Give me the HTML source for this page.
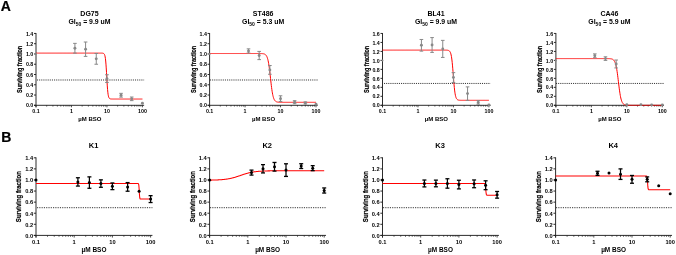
<!DOCTYPE html><html><head><meta charset="utf-8"><style>html,body{margin:0;padding:0;background:#fff;width:676px;height:255px;overflow:hidden}svg{display:block;will-change:transform} text{font-family:"Liberation Sans", sans-serif;font-weight:bold;fill:#000}</style></head><body>
<svg width="676" height="255" viewBox="0 0 676 255">
<rect width="676" height="255" fill="#fff"/>
<text x="0.8" y="10.6" font-size="14" stroke="#000" stroke-width="0.2">A</text>
<text x="1.2" y="141.6" font-size="14" stroke="#000" stroke-width="0.2">B</text>
<g><text x="89.5" y="15.8" font-size="7.0" text-anchor="middle">DG75</text><text x="89.5" y="23.5" font-size="6.9" text-anchor="middle">GI<tspan font-size="5.0" dy="2.1">50</tspan><tspan dy="-2.1"> = 9.9 uM</tspan></text><line x1="37" y1="79.99" x2="144.11" y2="79.99" stroke="#333" stroke-width="1" stroke-dasharray="1.07 1.06"/><line x1="36" y1="33" x2="36" y2="107.3" stroke="#222" stroke-width="0.95"/><line x1="34" y1="105.3" x2="144.11" y2="105.3" stroke="#222" stroke-width="0.95"/><line x1="34" y1="105.3" x2="36" y2="105.3" stroke="#222" stroke-width="0.95"/><text x="33.3" y="107.45" font-size="5.3" text-anchor="end">0.0</text><line x1="34" y1="95.04" x2="36" y2="95.04" stroke="#222" stroke-width="0.95"/><text x="33.3" y="97.19" font-size="5.3" text-anchor="end">0.2</text><line x1="34" y1="84.77" x2="36" y2="84.77" stroke="#222" stroke-width="0.95"/><text x="33.3" y="86.92" font-size="5.3" text-anchor="end">0.4</text><line x1="34" y1="74.51" x2="36" y2="74.51" stroke="#222" stroke-width="0.95"/><text x="33.3" y="76.66" font-size="5.3" text-anchor="end">0.6</text><line x1="34" y1="64.24" x2="36" y2="64.24" stroke="#222" stroke-width="0.95"/><text x="33.3" y="66.39" font-size="5.3" text-anchor="end">0.8</text><line x1="34" y1="53.98" x2="36" y2="53.98" stroke="#222" stroke-width="0.95"/><text x="33.3" y="56.13" font-size="5.3" text-anchor="end">1.0</text><line x1="34" y1="43.71" x2="36" y2="43.71" stroke="#222" stroke-width="0.95"/><text x="33.3" y="45.86" font-size="5.3" text-anchor="end">1.2</text><line x1="34" y1="33.45" x2="36" y2="33.45" stroke="#222" stroke-width="0.95"/><text x="33.3" y="35.6" font-size="5.3" text-anchor="end">1.4</text><line x1="36" y1="105.3" x2="36" y2="107.3" stroke="#222" stroke-width="0.8"/><line x1="46.68" y1="105.3" x2="46.68" y2="106.5" stroke="#222" stroke-width="0.8"/><line x1="52.92" y1="105.3" x2="52.92" y2="106.5" stroke="#222" stroke-width="0.8"/><line x1="57.36" y1="105.3" x2="57.36" y2="106.5" stroke="#222" stroke-width="0.8"/><line x1="60.79" y1="105.3" x2="60.79" y2="106.5" stroke="#222" stroke-width="0.8"/><line x1="63.6" y1="105.3" x2="63.6" y2="106.5" stroke="#222" stroke-width="0.8"/><line x1="65.98" y1="105.3" x2="65.98" y2="106.5" stroke="#222" stroke-width="0.8"/><line x1="68.03" y1="105.3" x2="68.03" y2="106.5" stroke="#222" stroke-width="0.8"/><line x1="69.85" y1="105.3" x2="69.85" y2="106.5" stroke="#222" stroke-width="0.8"/><line x1="71.47" y1="105.3" x2="71.47" y2="107.3" stroke="#222" stroke-width="0.8"/><line x1="82.15" y1="105.3" x2="82.15" y2="106.5" stroke="#222" stroke-width="0.8"/><line x1="88.39" y1="105.3" x2="88.39" y2="106.5" stroke="#222" stroke-width="0.8"/><line x1="92.83" y1="105.3" x2="92.83" y2="106.5" stroke="#222" stroke-width="0.8"/><line x1="96.26" y1="105.3" x2="96.26" y2="106.5" stroke="#222" stroke-width="0.8"/><line x1="99.07" y1="105.3" x2="99.07" y2="106.5" stroke="#222" stroke-width="0.8"/><line x1="101.45" y1="105.3" x2="101.45" y2="106.5" stroke="#222" stroke-width="0.8"/><line x1="103.5" y1="105.3" x2="103.5" y2="106.5" stroke="#222" stroke-width="0.8"/><line x1="105.32" y1="105.3" x2="105.32" y2="106.5" stroke="#222" stroke-width="0.8"/><line x1="106.94" y1="105.3" x2="106.94" y2="107.3" stroke="#222" stroke-width="0.8"/><line x1="117.62" y1="105.3" x2="117.62" y2="106.5" stroke="#222" stroke-width="0.8"/><line x1="123.86" y1="105.3" x2="123.86" y2="106.5" stroke="#222" stroke-width="0.8"/><line x1="128.3" y1="105.3" x2="128.3" y2="106.5" stroke="#222" stroke-width="0.8"/><line x1="131.73" y1="105.3" x2="131.73" y2="106.5" stroke="#222" stroke-width="0.8"/><line x1="134.54" y1="105.3" x2="134.54" y2="106.5" stroke="#222" stroke-width="0.8"/><line x1="136.92" y1="105.3" x2="136.92" y2="106.5" stroke="#222" stroke-width="0.8"/><line x1="138.97" y1="105.3" x2="138.97" y2="106.5" stroke="#222" stroke-width="0.8"/><line x1="140.79" y1="105.3" x2="140.79" y2="106.5" stroke="#222" stroke-width="0.8"/><line x1="142.41" y1="105.3" x2="142.41" y2="107.3" stroke="#222" stroke-width="0.8"/><text x="36" y="113.15" font-size="5.3" text-anchor="middle">0.1</text><text x="71.47" y="113.15" font-size="5.3" text-anchor="middle">1</text><text x="106.94" y="113.15" font-size="5.3" text-anchor="middle">10</text><text x="142.41" y="113.15" font-size="5.3" text-anchor="middle">100</text><text x="89.91" y="121.15" font-size="6" text-anchor="middle">µM BSO</text><text transform="translate(22.3,69.38) rotate(-90) scale(0.845,1)" font-size="6.6" stroke="#000" stroke-width="0.2" text-anchor="middle">Surviving fraction</text><polyline points="36.00,53.11 36.27,53.11 36.53,53.11 36.80,53.11 37.06,53.11 37.33,53.11 37.60,53.11 37.86,53.11 38.13,53.11 38.39,53.11 38.66,53.11 38.93,53.11 39.19,53.11 39.46,53.11 39.72,53.11 39.99,53.11 40.26,53.11 40.52,53.11 40.79,53.11 41.05,53.11 41.32,53.11 41.59,53.11 41.85,53.11 42.12,53.11 42.38,53.11 42.65,53.11 42.92,53.11 43.18,53.11 43.45,53.11 43.71,53.11 43.98,53.11 44.25,53.11 44.51,53.11 44.78,53.11 45.04,53.11 45.31,53.11 45.58,53.11 45.84,53.11 46.11,53.11 46.37,53.11 46.64,53.11 46.91,53.11 47.17,53.11 47.44,53.11 47.71,53.11 47.97,53.11 48.24,53.11 48.50,53.11 48.77,53.11 49.04,53.11 49.30,53.11 49.57,53.11 49.83,53.11 50.10,53.11 50.37,53.11 50.63,53.11 50.90,53.11 51.16,53.11 51.43,53.11 51.70,53.11 51.96,53.11 52.23,53.11 52.49,53.11 52.76,53.11 53.03,53.11 53.29,53.11 53.56,53.11 53.82,53.11 54.09,53.11 54.36,53.11 54.62,53.11 54.89,53.11 55.15,53.11 55.42,53.11 55.69,53.11 55.95,53.11 56.22,53.11 56.48,53.11 56.75,53.11 57.02,53.11 57.28,53.11 57.55,53.11 57.81,53.11 58.08,53.11 58.35,53.11 58.61,53.11 58.88,53.11 59.14,53.11 59.41,53.11 59.68,53.11 59.94,53.11 60.21,53.11 60.47,53.11 60.74,53.11 61.01,53.11 61.27,53.11 61.54,53.11 61.80,53.11 62.07,53.11 62.34,53.11 62.60,53.11 62.87,53.11 63.13,53.11 63.40,53.11 63.67,53.11 63.93,53.11 64.20,53.11 64.46,53.11 64.73,53.11 65.00,53.11 65.26,53.11 65.53,53.11 65.79,53.11 66.06,53.11 66.33,53.11 66.59,53.11 66.86,53.11 67.12,53.11 67.39,53.11 67.66,53.11 67.92,53.11 68.19,53.11 68.46,53.11 68.72,53.11 68.99,53.11 69.25,53.11 69.52,53.11 69.79,53.11 70.05,53.11 70.32,53.11 70.58,53.11 70.85,53.11 71.12,53.11 71.38,53.11 71.65,53.11 71.91,53.11 72.18,53.11 72.45,53.11 72.71,53.11 72.98,53.11 73.24,53.11 73.51,53.11 73.78,53.11 74.04,53.11 74.31,53.11 74.57,53.11 74.84,53.11 75.11,53.11 75.37,53.11 75.64,53.11 75.90,53.11 76.17,53.11 76.44,53.11 76.70,53.11 76.97,53.11 77.23,53.11 77.50,53.11 77.77,53.11 78.03,53.11 78.30,53.11 78.56,53.11 78.83,53.11 79.10,53.11 79.36,53.11 79.63,53.11 79.89,53.11 80.16,53.11 80.43,53.11 80.69,53.11 80.96,53.11 81.22,53.11 81.49,53.11 81.76,53.11 82.02,53.11 82.29,53.11 82.55,53.11 82.82,53.11 83.09,53.11 83.35,53.11 83.62,53.11 83.88,53.11 84.15,53.11 84.42,53.11 84.68,53.11 84.95,53.11 85.21,53.11 85.48,53.11 85.75,53.11 86.01,53.11 86.28,53.11 86.54,53.11 86.81,53.11 87.08,53.11 87.34,53.11 87.61,53.11 87.87,53.11 88.14,53.11 88.41,53.11 88.67,53.11 88.94,53.11 89.20,53.11 89.47,53.11 89.74,53.11 90.00,53.11 90.27,53.11 90.54,53.11 90.80,53.11 91.07,53.11 91.33,53.11 91.60,53.11 91.87,53.11 92.13,53.11 92.40,53.11 92.66,53.11 92.93,53.11 93.20,53.11 93.46,53.11 93.73,53.11 93.99,53.11 94.26,53.11 94.53,53.11 94.79,53.11 95.06,53.11 95.32,53.11 95.59,53.11 95.86,53.11 96.12,53.11 96.39,53.11 96.65,53.11 96.92,53.11 97.19,53.11 97.45,53.11 97.72,53.11 97.98,53.11 98.25,53.11 98.52,53.11 98.78,53.11 99.05,53.11 99.31,53.11 99.58,53.11 99.85,53.11 100.11,53.11 100.38,53.11 100.64,53.11 100.91,53.11 101.18,53.11 101.44,53.12 101.71,53.13 101.97,53.13 102.24,53.15 102.51,53.17 102.77,53.21 103.04,53.26 103.30,53.33 103.57,53.45 103.84,53.62 104.10,53.89 104.37,54.28 104.63,54.86 104.90,55.70 105.17,56.93 105.43,58.65 105.70,61.01 105.96,64.09 106.23,67.92 106.50,72.34 106.76,77.06 107.03,81.71 107.29,85.91 107.56,89.43 107.83,92.21 108.09,94.28 108.36,95.78 108.62,96.83 108.89,97.56 109.16,98.05 109.42,98.38 109.69,98.60 109.95,98.75 110.22,98.85 110.49,98.91 110.75,98.95 111.02,98.98 111.29,99.00 111.55,99.01 111.82,99.02 112.08,99.03 112.35,99.03 112.62,99.03 112.88,99.04 113.15,99.04 113.41,99.04 113.68,99.04 113.95,99.04 114.21,99.04 114.48,99.04 114.74,99.04 115.01,99.04 115.28,99.04 115.54,99.04 115.81,99.04 116.07,99.04 116.34,99.04 116.61,99.04 116.87,99.04 117.14,99.04 117.40,99.04 117.67,99.04 117.94,99.04 118.20,99.04 118.47,99.04 118.73,99.04 119.00,99.04 119.27,99.04 119.53,99.04 119.80,99.04 120.06,99.04 120.33,99.04 120.60,99.04 120.86,99.04 121.13,99.04 121.39,99.04 121.66,99.04 121.93,99.04 122.19,99.04 122.46,99.04 122.72,99.04 122.99,99.04 123.26,99.04 123.52,99.04 123.79,99.04 124.05,99.04 124.32,99.04 124.59,99.04 124.85,99.04 125.12,99.04 125.38,99.04 125.65,99.04 125.92,99.04 126.18,99.04 126.45,99.04 126.71,99.04 126.98,99.04 127.25,99.04 127.51,99.04 127.78,99.04 128.04,99.04 128.31,99.04 128.58,99.04 128.84,99.04 129.11,99.04 129.37,99.04 129.64,99.04 129.91,99.04 130.17,99.04 130.44,99.04 130.70,99.04 130.97,99.04 131.24,99.04 131.50,99.04 131.77,99.04 132.04,99.04 132.30,99.04 132.57,99.04 132.83,99.04 133.10,99.04 133.37,99.04 133.63,99.04 133.90,99.04 134.16,99.04 134.43,99.04 134.70,99.04 134.96,99.04 135.23,99.04 135.49,99.04 135.76,99.04 136.03,99.04 136.29,99.04 136.56,99.04 136.82,99.04 137.09,99.04 137.36,99.04 137.62,99.04 137.89,99.04 138.15,99.04 138.42,99.04 138.69,99.04 138.95,99.04 139.22,99.04 139.48,99.04 139.75,99.04 140.02,99.04 140.28,99.04 140.55,99.04 140.81,99.04 141.08,99.04 141.35,99.04 141.61,99.04 141.88,99.04 142.14,99.04 142.41,99.04" fill="none" stroke="#f00" stroke-width="1.0"/><circle cx="36" cy="53.98" r="1.0" fill="#888"/><line x1="74.91" y1="43.36" x2="74.91" y2="53.11" stroke="#888" stroke-width="1.0"/><line x1="73.11" y1="43.36" x2="76.71" y2="43.36" stroke="#888" stroke-width="1.0"/><line x1="73.11" y1="53.11" x2="76.71" y2="53.11" stroke="#888" stroke-width="1.0"/><circle cx="74.91" cy="48.23" r="1.45" fill="#888"/><line x1="85.58" y1="42.02" x2="85.58" y2="56.39" stroke="#888" stroke-width="1.0"/><line x1="83.78" y1="42.02" x2="87.38" y2="42.02" stroke="#888" stroke-width="1.0"/><line x1="83.78" y1="56.39" x2="87.38" y2="56.39" stroke="#888" stroke-width="1.0"/><circle cx="85.58" cy="49.21" r="1.45" fill="#888"/><line x1="96.26" y1="53.47" x2="96.26" y2="64.24" stroke="#888" stroke-width="1.0"/><line x1="94.46" y1="53.47" x2="98.06" y2="53.47" stroke="#888" stroke-width="1.0"/><line x1="94.46" y1="64.24" x2="98.06" y2="64.24" stroke="#888" stroke-width="1.0"/><circle cx="96.26" cy="58.85" r="1.45" fill="#888"/><line x1="106.94" y1="74.76" x2="106.94" y2="82.46" stroke="#888" stroke-width="1.0"/><line x1="105.14" y1="74.76" x2="108.74" y2="74.76" stroke="#888" stroke-width="1.0"/><line x1="105.14" y1="82.46" x2="108.74" y2="82.46" stroke="#888" stroke-width="1.0"/><circle cx="106.94" cy="78.61" r="1.45" fill="#888"/><line x1="121.05" y1="93.34" x2="121.05" y2="97.14" stroke="#888" stroke-width="1.0"/><line x1="119.25" y1="93.34" x2="122.85" y2="93.34" stroke="#888" stroke-width="1.0"/><line x1="119.25" y1="97.14" x2="122.85" y2="97.14" stroke="#888" stroke-width="1.0"/><circle cx="121.05" cy="95.24" r="1.45" fill="#888"/><line x1="131.73" y1="97.04" x2="131.73" y2="100.63" stroke="#888" stroke-width="1.0"/><line x1="129.93" y1="97.04" x2="133.53" y2="97.04" stroke="#888" stroke-width="1.0"/><line x1="129.93" y1="100.63" x2="133.53" y2="100.63" stroke="#888" stroke-width="1.0"/><circle cx="131.73" cy="98.83" r="1.45" fill="#888"/><circle cx="142.41" cy="103.25" r="1.45" fill="#888"/></g>
<g><text x="263.11" y="15.8" font-size="7.0" text-anchor="middle">ST486</text><text x="263.11" y="23.5" font-size="6.9" text-anchor="middle">GI<tspan font-size="5.0" dy="2.1">50</tspan><tspan dy="-2.1"> = 5.3 uM</tspan></text><line x1="210" y1="79.99" x2="317.71" y2="79.99" stroke="#333" stroke-width="1" stroke-dasharray="1.07 1.06"/><line x1="209.6" y1="33" x2="209.6" y2="107.3" stroke="#222" stroke-width="0.95"/><line x1="207.6" y1="105.3" x2="317.71" y2="105.3" stroke="#222" stroke-width="0.95"/><line x1="207.6" y1="105.3" x2="209.6" y2="105.3" stroke="#222" stroke-width="0.95"/><text x="206.9" y="107.45" font-size="5.3" text-anchor="end">0.0</text><line x1="207.6" y1="95.04" x2="209.6" y2="95.04" stroke="#222" stroke-width="0.95"/><text x="206.9" y="97.19" font-size="5.3" text-anchor="end">0.2</text><line x1="207.6" y1="84.77" x2="209.6" y2="84.77" stroke="#222" stroke-width="0.95"/><text x="206.9" y="86.92" font-size="5.3" text-anchor="end">0.4</text><line x1="207.6" y1="74.51" x2="209.6" y2="74.51" stroke="#222" stroke-width="0.95"/><text x="206.9" y="76.66" font-size="5.3" text-anchor="end">0.6</text><line x1="207.6" y1="64.24" x2="209.6" y2="64.24" stroke="#222" stroke-width="0.95"/><text x="206.9" y="66.39" font-size="5.3" text-anchor="end">0.8</text><line x1="207.6" y1="53.98" x2="209.6" y2="53.98" stroke="#222" stroke-width="0.95"/><text x="206.9" y="56.13" font-size="5.3" text-anchor="end">1.0</text><line x1="207.6" y1="43.71" x2="209.6" y2="43.71" stroke="#222" stroke-width="0.95"/><text x="206.9" y="45.86" font-size="5.3" text-anchor="end">1.2</text><line x1="207.6" y1="33.45" x2="209.6" y2="33.45" stroke="#222" stroke-width="0.95"/><text x="206.9" y="35.6" font-size="5.3" text-anchor="end">1.4</text><line x1="209.6" y1="105.3" x2="209.6" y2="107.3" stroke="#222" stroke-width="0.8"/><line x1="220.28" y1="105.3" x2="220.28" y2="106.5" stroke="#222" stroke-width="0.8"/><line x1="226.52" y1="105.3" x2="226.52" y2="106.5" stroke="#222" stroke-width="0.8"/><line x1="230.96" y1="105.3" x2="230.96" y2="106.5" stroke="#222" stroke-width="0.8"/><line x1="234.39" y1="105.3" x2="234.39" y2="106.5" stroke="#222" stroke-width="0.8"/><line x1="237.2" y1="105.3" x2="237.2" y2="106.5" stroke="#222" stroke-width="0.8"/><line x1="239.58" y1="105.3" x2="239.58" y2="106.5" stroke="#222" stroke-width="0.8"/><line x1="241.63" y1="105.3" x2="241.63" y2="106.5" stroke="#222" stroke-width="0.8"/><line x1="243.45" y1="105.3" x2="243.45" y2="106.5" stroke="#222" stroke-width="0.8"/><line x1="245.07" y1="105.3" x2="245.07" y2="107.3" stroke="#222" stroke-width="0.8"/><line x1="255.75" y1="105.3" x2="255.75" y2="106.5" stroke="#222" stroke-width="0.8"/><line x1="261.99" y1="105.3" x2="261.99" y2="106.5" stroke="#222" stroke-width="0.8"/><line x1="266.43" y1="105.3" x2="266.43" y2="106.5" stroke="#222" stroke-width="0.8"/><line x1="269.86" y1="105.3" x2="269.86" y2="106.5" stroke="#222" stroke-width="0.8"/><line x1="272.67" y1="105.3" x2="272.67" y2="106.5" stroke="#222" stroke-width="0.8"/><line x1="275.05" y1="105.3" x2="275.05" y2="106.5" stroke="#222" stroke-width="0.8"/><line x1="277.1" y1="105.3" x2="277.1" y2="106.5" stroke="#222" stroke-width="0.8"/><line x1="278.92" y1="105.3" x2="278.92" y2="106.5" stroke="#222" stroke-width="0.8"/><line x1="280.54" y1="105.3" x2="280.54" y2="107.3" stroke="#222" stroke-width="0.8"/><line x1="291.22" y1="105.3" x2="291.22" y2="106.5" stroke="#222" stroke-width="0.8"/><line x1="297.46" y1="105.3" x2="297.46" y2="106.5" stroke="#222" stroke-width="0.8"/><line x1="301.9" y1="105.3" x2="301.9" y2="106.5" stroke="#222" stroke-width="0.8"/><line x1="305.33" y1="105.3" x2="305.33" y2="106.5" stroke="#222" stroke-width="0.8"/><line x1="308.14" y1="105.3" x2="308.14" y2="106.5" stroke="#222" stroke-width="0.8"/><line x1="310.52" y1="105.3" x2="310.52" y2="106.5" stroke="#222" stroke-width="0.8"/><line x1="312.57" y1="105.3" x2="312.57" y2="106.5" stroke="#222" stroke-width="0.8"/><line x1="314.39" y1="105.3" x2="314.39" y2="106.5" stroke="#222" stroke-width="0.8"/><line x1="316.01" y1="105.3" x2="316.01" y2="107.3" stroke="#222" stroke-width="0.8"/><text x="209.6" y="113.15" font-size="5.3" text-anchor="middle">0.1</text><text x="245.07" y="113.15" font-size="5.3" text-anchor="middle">1</text><text x="280.54" y="113.15" font-size="5.3" text-anchor="middle">10</text><text x="316.01" y="113.15" font-size="5.3" text-anchor="middle">100</text><text x="263.5" y="121.15" font-size="6" text-anchor="middle">µM BSO</text><text transform="translate(195.9,69.38) rotate(-90) scale(0.845,1)" font-size="6.6" stroke="#000" stroke-width="0.2" text-anchor="middle">Surviving fraction</text><polyline points="209.60,53.52 209.87,53.52 210.13,53.52 210.40,53.52 210.66,53.52 210.93,53.52 211.20,53.52 211.46,53.52 211.73,53.52 211.99,53.52 212.26,53.52 212.53,53.52 212.79,53.52 213.06,53.52 213.32,53.52 213.59,53.52 213.86,53.52 214.12,53.52 214.39,53.52 214.65,53.52 214.92,53.52 215.19,53.52 215.45,53.52 215.72,53.52 215.98,53.52 216.25,53.52 216.52,53.52 216.78,53.52 217.05,53.52 217.31,53.52 217.58,53.52 217.85,53.52 218.11,53.52 218.38,53.52 218.64,53.52 218.91,53.52 219.18,53.52 219.44,53.52 219.71,53.52 219.97,53.52 220.24,53.52 220.51,53.52 220.77,53.52 221.04,53.52 221.31,53.52 221.57,53.52 221.84,53.52 222.10,53.52 222.37,53.52 222.64,53.52 222.90,53.52 223.17,53.52 223.43,53.52 223.70,53.52 223.97,53.52 224.23,53.52 224.50,53.52 224.76,53.52 225.03,53.52 225.30,53.52 225.56,53.52 225.83,53.52 226.09,53.52 226.36,53.52 226.63,53.52 226.89,53.52 227.16,53.52 227.42,53.52 227.69,53.52 227.96,53.52 228.22,53.52 228.49,53.52 228.75,53.52 229.02,53.52 229.29,53.52 229.55,53.52 229.82,53.52 230.08,53.52 230.35,53.52 230.62,53.52 230.88,53.52 231.15,53.52 231.41,53.52 231.68,53.52 231.95,53.52 232.21,53.52 232.48,53.52 232.74,53.52 233.01,53.52 233.28,53.52 233.54,53.52 233.81,53.52 234.07,53.52 234.34,53.52 234.61,53.52 234.87,53.52 235.14,53.52 235.40,53.52 235.67,53.52 235.94,53.52 236.20,53.52 236.47,53.52 236.73,53.52 237.00,53.52 237.27,53.52 237.53,53.52 237.80,53.52 238.06,53.52 238.33,53.52 238.60,53.52 238.86,53.52 239.13,53.52 239.39,53.52 239.66,53.52 239.93,53.52 240.19,53.52 240.46,53.52 240.72,53.52 240.99,53.52 241.26,53.52 241.52,53.52 241.79,53.52 242.06,53.52 242.32,53.52 242.59,53.52 242.85,53.52 243.12,53.52 243.39,53.52 243.65,53.52 243.92,53.52 244.18,53.52 244.45,53.52 244.72,53.52 244.98,53.52 245.25,53.52 245.51,53.52 245.78,53.52 246.05,53.52 246.31,53.52 246.58,53.52 246.84,53.52 247.11,53.52 247.38,53.52 247.64,53.52 247.91,53.52 248.17,53.52 248.44,53.52 248.71,53.52 248.97,53.52 249.24,53.52 249.50,53.52 249.77,53.52 250.04,53.52 250.30,53.52 250.57,53.52 250.83,53.52 251.10,53.52 251.37,53.52 251.63,53.52 251.90,53.52 252.16,53.52 252.43,53.52 252.70,53.52 252.96,53.52 253.23,53.52 253.49,53.52 253.76,53.52 254.03,53.52 254.29,53.52 254.56,53.52 254.82,53.52 255.09,53.52 255.36,53.52 255.62,53.52 255.89,53.52 256.15,53.52 256.42,53.52 256.69,53.52 256.95,53.52 257.22,53.52 257.48,53.52 257.75,53.52 258.02,53.52 258.28,53.52 258.55,53.52 258.81,53.52 259.08,53.53 259.35,53.53 259.61,53.53 259.88,53.53 260.14,53.54 260.41,53.54 260.68,53.55 260.94,53.56 261.21,53.57 261.47,53.58 261.74,53.59 262.01,53.60 262.27,53.62 262.54,53.65 262.81,53.68 263.07,53.71 263.34,53.75 263.60,53.81 263.87,53.87 264.14,53.95 264.40,54.04 264.67,54.15 264.93,54.29 265.20,54.45 265.47,54.66 265.73,54.90 266.00,55.19 266.26,55.55 266.53,55.97 266.80,56.47 267.06,57.08 267.33,57.79 267.59,58.63 267.86,59.62 268.13,60.76 268.39,62.07 268.66,63.56 268.92,65.24 269.19,67.10 269.46,69.12 269.72,71.30 269.99,73.60 270.25,75.98 270.52,78.40 270.79,80.81 271.05,83.17 271.32,85.42 271.58,87.54 271.85,89.51 272.12,91.29 272.38,92.90 272.65,94.32 272.91,95.56 273.18,96.64 273.45,97.56 273.71,98.35 273.98,99.02 274.24,99.58 274.51,100.05 274.78,100.44 275.04,100.77 275.31,101.04 275.57,101.27 275.84,101.46 276.11,101.61 276.37,101.74 276.64,101.84 276.90,101.93 277.17,102.00 277.44,102.06 277.70,102.10 277.97,102.14 278.23,102.18 278.50,102.20 278.77,102.22 279.03,102.24 279.30,102.26 279.56,102.27 279.83,102.28 280.10,102.29 280.36,102.29 280.63,102.30 280.89,102.30 281.16,102.31 281.43,102.31 281.69,102.31 281.96,102.31 282.22,102.32 282.49,102.32 282.76,102.32 283.02,102.32 283.29,102.32 283.55,102.32 283.82,102.32 284.09,102.32 284.35,102.32 284.62,102.32 284.89,102.32 285.15,102.32 285.42,102.32 285.68,102.32 285.95,102.32 286.22,102.32 286.48,102.32 286.75,102.32 287.01,102.32 287.28,102.32 287.55,102.32 287.81,102.32 288.08,102.32 288.34,102.32 288.61,102.32 288.88,102.32 289.14,102.32 289.41,102.32 289.67,102.32 289.94,102.32 290.21,102.32 290.47,102.32 290.74,102.32 291.00,102.32 291.27,102.32 291.54,102.32 291.80,102.32 292.07,102.32 292.33,102.32 292.60,102.32 292.87,102.32 293.13,102.32 293.40,102.32 293.66,102.32 293.93,102.32 294.20,102.32 294.46,102.32 294.73,102.32 294.99,102.32 295.26,102.32 295.53,102.32 295.79,102.32 296.06,102.32 296.32,102.32 296.59,102.32 296.86,102.32 297.12,102.32 297.39,102.32 297.65,102.32 297.92,102.32 298.19,102.32 298.45,102.32 298.72,102.32 298.98,102.32 299.25,102.32 299.52,102.32 299.78,102.32 300.05,102.32 300.31,102.32 300.58,102.32 300.85,102.32 301.11,102.32 301.38,102.32 301.64,102.32 301.91,102.32 302.18,102.32 302.44,102.32 302.71,102.32 302.97,102.32 303.24,102.32 303.51,102.32 303.77,102.32 304.04,102.32 304.30,102.32 304.57,102.32 304.84,102.32 305.10,102.32 305.37,102.32 305.64,102.32 305.90,102.32 306.17,102.32 306.43,102.32 306.70,102.32 306.97,102.32 307.23,102.32 307.50,102.32 307.76,102.32 308.03,102.32 308.30,102.32 308.56,102.32 308.83,102.32 309.09,102.32 309.36,102.32 309.63,102.32 309.89,102.32 310.16,102.32 310.42,102.32 310.69,102.32 310.96,102.32 311.22,102.32 311.49,102.32 311.75,102.32 312.02,102.32 312.29,102.32 312.55,102.32 312.82,102.32 313.08,102.32 313.35,102.32 313.62,102.32 313.88,102.32 314.15,102.32 314.41,102.32 314.68,102.32 314.95,102.32 315.21,102.32 315.48,102.32 315.74,102.32 316.01,102.32" fill="none" stroke="#f00" stroke-width="1.0"/><circle cx="209.6" cy="53.98" r="1.0" fill="#888"/><line x1="248.51" y1="48.85" x2="248.51" y2="52.95" stroke="#888" stroke-width="1.0"/><line x1="246.71" y1="48.85" x2="250.31" y2="48.85" stroke="#888" stroke-width="1.0"/><line x1="246.71" y1="52.95" x2="250.31" y2="52.95" stroke="#888" stroke-width="1.0"/><circle cx="248.51" cy="50.9" r="1.45" fill="#888"/><line x1="259.18" y1="51.41" x2="259.18" y2="59.62" stroke="#888" stroke-width="1.0"/><line x1="257.38" y1="51.41" x2="260.98" y2="51.41" stroke="#888" stroke-width="1.0"/><line x1="257.38" y1="59.62" x2="260.98" y2="59.62" stroke="#888" stroke-width="1.0"/><circle cx="259.18" cy="55.52" r="1.45" fill="#888"/><line x1="269.86" y1="65.53" x2="269.86" y2="74.25" stroke="#888" stroke-width="1.0"/><line x1="268.06" y1="65.53" x2="271.66" y2="65.53" stroke="#888" stroke-width="1.0"/><line x1="268.06" y1="74.25" x2="271.66" y2="74.25" stroke="#888" stroke-width="1.0"/><circle cx="269.86" cy="69.89" r="1.45" fill="#888"/><line x1="280.54" y1="95.81" x2="280.54" y2="101.45" stroke="#888" stroke-width="1.0"/><line x1="278.74" y1="95.81" x2="282.34" y2="95.81" stroke="#888" stroke-width="1.0"/><line x1="278.74" y1="101.45" x2="282.34" y2="101.45" stroke="#888" stroke-width="1.0"/><circle cx="280.54" cy="98.63" r="1.45" fill="#888"/><line x1="294.65" y1="100.68" x2="294.65" y2="103.76" stroke="#888" stroke-width="1.0"/><line x1="292.85" y1="100.68" x2="296.45" y2="100.68" stroke="#888" stroke-width="1.0"/><line x1="292.85" y1="103.76" x2="296.45" y2="103.76" stroke="#888" stroke-width="1.0"/><circle cx="294.65" cy="102.22" r="1.45" fill="#888"/><line x1="305.33" y1="101.96" x2="305.33" y2="104.02" stroke="#888" stroke-width="1.0"/><line x1="303.53" y1="101.96" x2="307.13" y2="101.96" stroke="#888" stroke-width="1.0"/><line x1="303.53" y1="104.02" x2="307.13" y2="104.02" stroke="#888" stroke-width="1.0"/><circle cx="305.33" cy="102.99" r="1.45" fill="#888"/><circle cx="316.01" cy="104.27" r="1.45" fill="#888"/></g>
<g><text x="436" y="15.8" font-size="7.0" text-anchor="middle">BL41</text><text x="436" y="23.5" font-size="6.9" text-anchor="middle">GI<tspan font-size="5.0" dy="2.1">50</tspan><tspan dy="-2.1"> = 9.9 uM</tspan></text><line x1="384" y1="83.45" x2="490.61" y2="83.45" stroke="#333" stroke-width="1" stroke-dasharray="1.07 1.06"/><line x1="382.5" y1="33" x2="382.5" y2="107.3" stroke="#222" stroke-width="0.95"/><line x1="380.5" y1="105.3" x2="490.61" y2="105.3" stroke="#222" stroke-width="0.95"/><line x1="380.5" y1="105.3" x2="382.5" y2="105.3" stroke="#222" stroke-width="0.95"/><text x="379.8" y="107.45" font-size="5.3" text-anchor="end">0.0</text><line x1="380.5" y1="96.32" x2="382.5" y2="96.32" stroke="#222" stroke-width="0.95"/><text x="379.8" y="98.47" font-size="5.3" text-anchor="end">0.2</text><line x1="380.5" y1="87.34" x2="382.5" y2="87.34" stroke="#222" stroke-width="0.95"/><text x="379.8" y="89.49" font-size="5.3" text-anchor="end">0.4</text><line x1="380.5" y1="78.36" x2="382.5" y2="78.36" stroke="#222" stroke-width="0.95"/><text x="379.8" y="80.51" font-size="5.3" text-anchor="end">0.6</text><line x1="380.5" y1="69.38" x2="382.5" y2="69.38" stroke="#222" stroke-width="0.95"/><text x="379.8" y="71.53" font-size="5.3" text-anchor="end">0.8</text><line x1="380.5" y1="60.39" x2="382.5" y2="60.39" stroke="#222" stroke-width="0.95"/><text x="379.8" y="62.54" font-size="5.3" text-anchor="end">1.0</text><line x1="380.5" y1="51.41" x2="382.5" y2="51.41" stroke="#222" stroke-width="0.95"/><text x="379.8" y="53.56" font-size="5.3" text-anchor="end">1.2</text><line x1="380.5" y1="42.43" x2="382.5" y2="42.43" stroke="#222" stroke-width="0.95"/><text x="379.8" y="44.58" font-size="5.3" text-anchor="end">1.4</text><line x1="380.5" y1="33.45" x2="382.5" y2="33.45" stroke="#222" stroke-width="0.95"/><text x="379.8" y="35.6" font-size="5.3" text-anchor="end">1.6</text><line x1="382.5" y1="105.3" x2="382.5" y2="107.3" stroke="#222" stroke-width="0.8"/><line x1="393.18" y1="105.3" x2="393.18" y2="106.5" stroke="#222" stroke-width="0.8"/><line x1="399.42" y1="105.3" x2="399.42" y2="106.5" stroke="#222" stroke-width="0.8"/><line x1="403.86" y1="105.3" x2="403.86" y2="106.5" stroke="#222" stroke-width="0.8"/><line x1="407.29" y1="105.3" x2="407.29" y2="106.5" stroke="#222" stroke-width="0.8"/><line x1="410.1" y1="105.3" x2="410.1" y2="106.5" stroke="#222" stroke-width="0.8"/><line x1="412.48" y1="105.3" x2="412.48" y2="106.5" stroke="#222" stroke-width="0.8"/><line x1="414.53" y1="105.3" x2="414.53" y2="106.5" stroke="#222" stroke-width="0.8"/><line x1="416.35" y1="105.3" x2="416.35" y2="106.5" stroke="#222" stroke-width="0.8"/><line x1="417.97" y1="105.3" x2="417.97" y2="107.3" stroke="#222" stroke-width="0.8"/><line x1="428.65" y1="105.3" x2="428.65" y2="106.5" stroke="#222" stroke-width="0.8"/><line x1="434.89" y1="105.3" x2="434.89" y2="106.5" stroke="#222" stroke-width="0.8"/><line x1="439.33" y1="105.3" x2="439.33" y2="106.5" stroke="#222" stroke-width="0.8"/><line x1="442.76" y1="105.3" x2="442.76" y2="106.5" stroke="#222" stroke-width="0.8"/><line x1="445.57" y1="105.3" x2="445.57" y2="106.5" stroke="#222" stroke-width="0.8"/><line x1="447.95" y1="105.3" x2="447.95" y2="106.5" stroke="#222" stroke-width="0.8"/><line x1="450" y1="105.3" x2="450" y2="106.5" stroke="#222" stroke-width="0.8"/><line x1="451.82" y1="105.3" x2="451.82" y2="106.5" stroke="#222" stroke-width="0.8"/><line x1="453.44" y1="105.3" x2="453.44" y2="107.3" stroke="#222" stroke-width="0.8"/><line x1="464.12" y1="105.3" x2="464.12" y2="106.5" stroke="#222" stroke-width="0.8"/><line x1="470.36" y1="105.3" x2="470.36" y2="106.5" stroke="#222" stroke-width="0.8"/><line x1="474.8" y1="105.3" x2="474.8" y2="106.5" stroke="#222" stroke-width="0.8"/><line x1="478.23" y1="105.3" x2="478.23" y2="106.5" stroke="#222" stroke-width="0.8"/><line x1="481.04" y1="105.3" x2="481.04" y2="106.5" stroke="#222" stroke-width="0.8"/><line x1="483.42" y1="105.3" x2="483.42" y2="106.5" stroke="#222" stroke-width="0.8"/><line x1="485.47" y1="105.3" x2="485.47" y2="106.5" stroke="#222" stroke-width="0.8"/><line x1="487.29" y1="105.3" x2="487.29" y2="106.5" stroke="#222" stroke-width="0.8"/><line x1="488.91" y1="105.3" x2="488.91" y2="107.3" stroke="#222" stroke-width="0.8"/><text x="382.5" y="113.15" font-size="5.3" text-anchor="middle">0.1</text><text x="417.97" y="113.15" font-size="5.3" text-anchor="middle">1</text><text x="453.44" y="113.15" font-size="5.3" text-anchor="middle">10</text><text x="488.91" y="113.15" font-size="5.3" text-anchor="middle">100</text><text x="436.4" y="121.15" font-size="6" text-anchor="middle">µM BSO</text><text transform="translate(368.8,69.38) rotate(-90) scale(0.845,1)" font-size="6.6" stroke="#000" stroke-width="0.2" text-anchor="middle">Surviving fraction</text><polyline points="382.50,50.11 382.77,50.11 383.03,50.11 383.30,50.11 383.56,50.11 383.83,50.11 384.10,50.11 384.36,50.11 384.63,50.11 384.89,50.11 385.16,50.11 385.43,50.11 385.69,50.11 385.96,50.11 386.22,50.11 386.49,50.11 386.76,50.11 387.02,50.11 387.29,50.11 387.55,50.11 387.82,50.11 388.09,50.11 388.35,50.11 388.62,50.11 388.88,50.11 389.15,50.11 389.42,50.11 389.68,50.11 389.95,50.11 390.21,50.11 390.48,50.11 390.75,50.11 391.01,50.11 391.28,50.11 391.54,50.11 391.81,50.11 392.08,50.11 392.34,50.11 392.61,50.11 392.87,50.11 393.14,50.11 393.41,50.11 393.67,50.11 393.94,50.11 394.21,50.11 394.47,50.11 394.74,50.11 395.00,50.11 395.27,50.11 395.54,50.11 395.80,50.11 396.07,50.11 396.33,50.11 396.60,50.11 396.87,50.11 397.13,50.11 397.40,50.11 397.66,50.11 397.93,50.11 398.20,50.11 398.46,50.11 398.73,50.11 398.99,50.11 399.26,50.11 399.53,50.11 399.79,50.11 400.06,50.11 400.32,50.11 400.59,50.11 400.86,50.11 401.12,50.11 401.39,50.11 401.65,50.11 401.92,50.11 402.19,50.11 402.45,50.11 402.72,50.11 402.98,50.11 403.25,50.11 403.52,50.11 403.78,50.11 404.05,50.11 404.31,50.11 404.58,50.11 404.85,50.11 405.11,50.11 405.38,50.11 405.64,50.11 405.91,50.11 406.18,50.11 406.44,50.11 406.71,50.11 406.97,50.11 407.24,50.11 407.51,50.11 407.77,50.11 408.04,50.11 408.30,50.11 408.57,50.11 408.84,50.11 409.10,50.11 409.37,50.11 409.63,50.11 409.90,50.11 410.17,50.11 410.43,50.11 410.70,50.11 410.96,50.11 411.23,50.11 411.50,50.11 411.76,50.11 412.03,50.11 412.29,50.11 412.56,50.11 412.83,50.11 413.09,50.11 413.36,50.11 413.62,50.11 413.89,50.11 414.16,50.11 414.42,50.11 414.69,50.11 414.96,50.11 415.22,50.11 415.49,50.11 415.75,50.11 416.02,50.11 416.29,50.11 416.55,50.11 416.82,50.11 417.08,50.11 417.35,50.11 417.62,50.11 417.88,50.11 418.15,50.11 418.41,50.11 418.68,50.11 418.95,50.11 419.21,50.11 419.48,50.11 419.74,50.11 420.01,50.11 420.28,50.11 420.54,50.11 420.81,50.11 421.07,50.11 421.34,50.11 421.61,50.11 421.87,50.11 422.14,50.11 422.40,50.11 422.67,50.11 422.94,50.11 423.20,50.11 423.47,50.11 423.73,50.11 424.00,50.11 424.27,50.11 424.53,50.11 424.80,50.11 425.06,50.11 425.33,50.11 425.60,50.11 425.86,50.11 426.13,50.11 426.39,50.11 426.66,50.11 426.93,50.11 427.19,50.11 427.46,50.11 427.72,50.11 427.99,50.11 428.26,50.11 428.52,50.11 428.79,50.11 429.05,50.11 429.32,50.11 429.59,50.11 429.85,50.11 430.12,50.11 430.38,50.11 430.65,50.11 430.92,50.11 431.18,50.11 431.45,50.11 431.71,50.11 431.98,50.11 432.25,50.11 432.51,50.11 432.78,50.11 433.04,50.11 433.31,50.11 433.58,50.11 433.84,50.11 434.11,50.11 434.37,50.11 434.64,50.11 434.91,50.11 435.17,50.11 435.44,50.11 435.70,50.11 435.97,50.11 436.24,50.11 436.50,50.11 436.77,50.11 437.04,50.11 437.30,50.11 437.57,50.11 437.83,50.11 438.10,50.11 438.37,50.11 438.63,50.11 438.90,50.11 439.16,50.11 439.43,50.11 439.70,50.11 439.96,50.11 440.23,50.11 440.49,50.11 440.76,50.11 441.03,50.11 441.29,50.11 441.56,50.11 441.82,50.11 442.09,50.11 442.36,50.11 442.62,50.11 442.89,50.11 443.15,50.11 443.42,50.11 443.69,50.11 443.95,50.11 444.22,50.11 444.48,50.12 444.75,50.12 445.02,50.12 445.28,50.12 445.55,50.13 445.81,50.13 446.08,50.14 446.35,50.15 446.61,50.16 446.88,50.17 447.14,50.20 447.41,50.22 447.68,50.26 447.94,50.30 448.21,50.37 448.47,50.45 448.74,50.55 449.01,50.69 449.27,50.88 449.54,51.11 449.80,51.43 450.07,51.83 450.34,52.35 450.60,53.03 450.87,53.88 451.13,54.97 451.40,56.32 451.67,57.99 451.93,60.00 452.20,62.38 452.46,65.12 452.73,68.18 453.00,71.48 453.26,74.92 453.53,78.37 453.79,81.70 454.06,84.81 454.33,87.61 454.59,90.05 454.86,92.12 455.12,93.84 455.39,95.25 455.66,96.38 455.92,97.27 456.19,97.97 456.45,98.52 456.72,98.94 456.99,99.26 457.25,99.51 457.52,99.71 457.79,99.85 458.05,99.96 458.32,100.05 458.58,100.11 458.85,100.16 459.12,100.20 459.38,100.23 459.65,100.25 459.91,100.26 460.18,100.28 460.45,100.29 460.71,100.29 460.98,100.30 461.24,100.30 461.51,100.31 461.78,100.31 462.04,100.31 462.31,100.31 462.57,100.31 462.84,100.31 463.11,100.31 463.37,100.31 463.64,100.31 463.90,100.31 464.17,100.31 464.44,100.31 464.70,100.32 464.97,100.32 465.23,100.32 465.50,100.32 465.77,100.32 466.03,100.32 466.30,100.32 466.56,100.32 466.83,100.32 467.10,100.32 467.36,100.32 467.63,100.32 467.89,100.32 468.16,100.32 468.43,100.32 468.69,100.32 468.96,100.32 469.22,100.32 469.49,100.32 469.76,100.32 470.02,100.32 470.29,100.32 470.55,100.32 470.82,100.32 471.09,100.32 471.35,100.32 471.62,100.32 471.88,100.32 472.15,100.32 472.42,100.32 472.68,100.32 472.95,100.32 473.21,100.32 473.48,100.32 473.75,100.32 474.01,100.32 474.28,100.32 474.54,100.32 474.81,100.32 475.08,100.32 475.34,100.32 475.61,100.32 475.87,100.32 476.14,100.32 476.41,100.32 476.67,100.32 476.94,100.32 477.20,100.32 477.47,100.32 477.74,100.32 478.00,100.32 478.27,100.32 478.54,100.32 478.80,100.32 479.07,100.32 479.33,100.32 479.60,100.32 479.87,100.32 480.13,100.32 480.40,100.32 480.66,100.32 480.93,100.32 481.20,100.32 481.46,100.32 481.73,100.32 481.99,100.32 482.26,100.32 482.53,100.32 482.79,100.32 483.06,100.32 483.32,100.32 483.59,100.32 483.86,100.32 484.12,100.32 484.39,100.32 484.65,100.32 484.92,100.32 485.19,100.32 485.45,100.32 485.72,100.32 485.98,100.32 486.25,100.32 486.52,100.32 486.78,100.32 487.05,100.32 487.31,100.32 487.58,100.32 487.85,100.32 488.11,100.32 488.38,100.32 488.64,100.32 488.91,100.32" fill="none" stroke="#f00" stroke-width="1.0"/><circle cx="382.5" cy="60.39" r="1.0" fill="#888"/><line x1="421.41" y1="39.47" x2="421.41" y2="51.14" stroke="#888" stroke-width="1.0"/><line x1="419.61" y1="39.47" x2="423.21" y2="39.47" stroke="#888" stroke-width="1.0"/><line x1="419.61" y1="51.14" x2="423.21" y2="51.14" stroke="#888" stroke-width="1.0"/><circle cx="421.41" cy="45.31" r="1.45" fill="#888"/><line x1="432.08" y1="37.58" x2="432.08" y2="52.4" stroke="#888" stroke-width="1.0"/><line x1="430.28" y1="37.58" x2="433.88" y2="37.58" stroke="#888" stroke-width="1.0"/><line x1="430.28" y1="52.4" x2="433.88" y2="52.4" stroke="#888" stroke-width="1.0"/><circle cx="432.08" cy="44.99" r="1.45" fill="#888"/><line x1="442.76" y1="40.37" x2="442.76" y2="57.43" stroke="#888" stroke-width="1.0"/><line x1="440.96" y1="40.37" x2="444.56" y2="40.37" stroke="#888" stroke-width="1.0"/><line x1="440.96" y1="57.43" x2="444.56" y2="57.43" stroke="#888" stroke-width="1.0"/><circle cx="442.76" cy="48.9" r="1.45" fill="#888"/><line x1="453.44" y1="72.61" x2="453.44" y2="82.49" stroke="#888" stroke-width="1.0"/><line x1="451.64" y1="72.61" x2="455.24" y2="72.61" stroke="#888" stroke-width="1.0"/><line x1="451.64" y1="82.49" x2="455.24" y2="82.49" stroke="#888" stroke-width="1.0"/><circle cx="453.44" cy="77.55" r="1.45" fill="#888"/><line x1="467.55" y1="86.89" x2="467.55" y2="100.36" stroke="#888" stroke-width="1.0"/><line x1="465.75" y1="86.89" x2="469.35" y2="86.89" stroke="#888" stroke-width="1.0"/><line x1="465.75" y1="100.36" x2="469.35" y2="100.36" stroke="#888" stroke-width="1.0"/><circle cx="467.55" cy="93.62" r="1.45" fill="#888"/><line x1="478.23" y1="100.63" x2="478.23" y2="104.22" stroke="#888" stroke-width="1.0"/><line x1="476.43" y1="100.63" x2="480.03" y2="100.63" stroke="#888" stroke-width="1.0"/><line x1="476.43" y1="104.22" x2="480.03" y2="104.22" stroke="#888" stroke-width="1.0"/><circle cx="478.23" cy="102.43" r="1.45" fill="#888"/><circle cx="488.91" cy="104.85" r="1.45" fill="#888"/></g>
<g><text x="609.4" y="15.8" font-size="7.0" text-anchor="middle">CA46</text><text x="609.4" y="23.5" font-size="6.9" text-anchor="middle">GI<tspan font-size="5.0" dy="2.1">50</tspan><tspan dy="-2.1"> = 5.9 uM</tspan></text><line x1="556" y1="83.45" x2="664.01" y2="83.45" stroke="#333" stroke-width="1" stroke-dasharray="1.07 1.06"/><line x1="555.9" y1="33" x2="555.9" y2="107.3" stroke="#222" stroke-width="0.95"/><line x1="553.9" y1="105.3" x2="664.01" y2="105.3" stroke="#222" stroke-width="0.95"/><line x1="553.9" y1="105.3" x2="555.9" y2="105.3" stroke="#222" stroke-width="0.95"/><text x="553.2" y="107.45" font-size="5.3" text-anchor="end">0.0</text><line x1="553.9" y1="96.32" x2="555.9" y2="96.32" stroke="#222" stroke-width="0.95"/><text x="553.2" y="98.47" font-size="5.3" text-anchor="end">0.2</text><line x1="553.9" y1="87.34" x2="555.9" y2="87.34" stroke="#222" stroke-width="0.95"/><text x="553.2" y="89.49" font-size="5.3" text-anchor="end">0.4</text><line x1="553.9" y1="78.36" x2="555.9" y2="78.36" stroke="#222" stroke-width="0.95"/><text x="553.2" y="80.51" font-size="5.3" text-anchor="end">0.6</text><line x1="553.9" y1="69.38" x2="555.9" y2="69.38" stroke="#222" stroke-width="0.95"/><text x="553.2" y="71.53" font-size="5.3" text-anchor="end">0.8</text><line x1="553.9" y1="60.39" x2="555.9" y2="60.39" stroke="#222" stroke-width="0.95"/><text x="553.2" y="62.54" font-size="5.3" text-anchor="end">1.0</text><line x1="553.9" y1="51.41" x2="555.9" y2="51.41" stroke="#222" stroke-width="0.95"/><text x="553.2" y="53.56" font-size="5.3" text-anchor="end">1.2</text><line x1="553.9" y1="42.43" x2="555.9" y2="42.43" stroke="#222" stroke-width="0.95"/><text x="553.2" y="44.58" font-size="5.3" text-anchor="end">1.4</text><line x1="553.9" y1="33.45" x2="555.9" y2="33.45" stroke="#222" stroke-width="0.95"/><text x="553.2" y="35.6" font-size="5.3" text-anchor="end">1.6</text><line x1="555.9" y1="105.3" x2="555.9" y2="107.3" stroke="#222" stroke-width="0.8"/><line x1="566.58" y1="105.3" x2="566.58" y2="106.5" stroke="#222" stroke-width="0.8"/><line x1="572.82" y1="105.3" x2="572.82" y2="106.5" stroke="#222" stroke-width="0.8"/><line x1="577.26" y1="105.3" x2="577.26" y2="106.5" stroke="#222" stroke-width="0.8"/><line x1="580.69" y1="105.3" x2="580.69" y2="106.5" stroke="#222" stroke-width="0.8"/><line x1="583.5" y1="105.3" x2="583.5" y2="106.5" stroke="#222" stroke-width="0.8"/><line x1="585.88" y1="105.3" x2="585.88" y2="106.5" stroke="#222" stroke-width="0.8"/><line x1="587.93" y1="105.3" x2="587.93" y2="106.5" stroke="#222" stroke-width="0.8"/><line x1="589.75" y1="105.3" x2="589.75" y2="106.5" stroke="#222" stroke-width="0.8"/><line x1="591.37" y1="105.3" x2="591.37" y2="107.3" stroke="#222" stroke-width="0.8"/><line x1="602.05" y1="105.3" x2="602.05" y2="106.5" stroke="#222" stroke-width="0.8"/><line x1="608.29" y1="105.3" x2="608.29" y2="106.5" stroke="#222" stroke-width="0.8"/><line x1="612.73" y1="105.3" x2="612.73" y2="106.5" stroke="#222" stroke-width="0.8"/><line x1="616.16" y1="105.3" x2="616.16" y2="106.5" stroke="#222" stroke-width="0.8"/><line x1="618.97" y1="105.3" x2="618.97" y2="106.5" stroke="#222" stroke-width="0.8"/><line x1="621.35" y1="105.3" x2="621.35" y2="106.5" stroke="#222" stroke-width="0.8"/><line x1="623.4" y1="105.3" x2="623.4" y2="106.5" stroke="#222" stroke-width="0.8"/><line x1="625.22" y1="105.3" x2="625.22" y2="106.5" stroke="#222" stroke-width="0.8"/><line x1="626.84" y1="105.3" x2="626.84" y2="107.3" stroke="#222" stroke-width="0.8"/><line x1="637.52" y1="105.3" x2="637.52" y2="106.5" stroke="#222" stroke-width="0.8"/><line x1="643.76" y1="105.3" x2="643.76" y2="106.5" stroke="#222" stroke-width="0.8"/><line x1="648.2" y1="105.3" x2="648.2" y2="106.5" stroke="#222" stroke-width="0.8"/><line x1="651.63" y1="105.3" x2="651.63" y2="106.5" stroke="#222" stroke-width="0.8"/><line x1="654.44" y1="105.3" x2="654.44" y2="106.5" stroke="#222" stroke-width="0.8"/><line x1="656.82" y1="105.3" x2="656.82" y2="106.5" stroke="#222" stroke-width="0.8"/><line x1="658.87" y1="105.3" x2="658.87" y2="106.5" stroke="#222" stroke-width="0.8"/><line x1="660.69" y1="105.3" x2="660.69" y2="106.5" stroke="#222" stroke-width="0.8"/><line x1="662.31" y1="105.3" x2="662.31" y2="107.3" stroke="#222" stroke-width="0.8"/><text x="555.9" y="113.15" font-size="5.3" text-anchor="middle">0.1</text><text x="591.37" y="113.15" font-size="5.3" text-anchor="middle">1</text><text x="626.84" y="113.15" font-size="5.3" text-anchor="middle">10</text><text x="662.31" y="113.15" font-size="5.3" text-anchor="middle">100</text><text x="609.81" y="121.15" font-size="6" text-anchor="middle">µM BSO</text><text transform="translate(542.2,69.38) rotate(-90) scale(0.845,1)" font-size="6.6" stroke="#000" stroke-width="0.2" text-anchor="middle">Surviving fraction</text><polyline points="555.90,58.60 556.17,58.60 556.43,58.60 556.70,58.60 556.96,58.60 557.23,58.60 557.50,58.60 557.76,58.60 558.03,58.60 558.29,58.60 558.56,58.60 558.83,58.60 559.09,58.60 559.36,58.60 559.62,58.60 559.89,58.60 560.16,58.60 560.42,58.60 560.69,58.60 560.95,58.60 561.22,58.60 561.49,58.60 561.75,58.60 562.02,58.60 562.28,58.60 562.55,58.60 562.82,58.60 563.08,58.60 563.35,58.60 563.61,58.60 563.88,58.60 564.15,58.60 564.41,58.60 564.68,58.60 564.94,58.60 565.21,58.60 565.48,58.60 565.74,58.60 566.01,58.60 566.27,58.60 566.54,58.60 566.81,58.60 567.07,58.60 567.34,58.60 567.61,58.60 567.87,58.60 568.14,58.60 568.40,58.60 568.67,58.60 568.94,58.60 569.20,58.60 569.47,58.60 569.73,58.60 570.00,58.60 570.27,58.60 570.53,58.60 570.80,58.60 571.06,58.60 571.33,58.60 571.60,58.60 571.86,58.60 572.13,58.60 572.39,58.60 572.66,58.60 572.93,58.60 573.19,58.60 573.46,58.60 573.72,58.60 573.99,58.60 574.26,58.60 574.52,58.60 574.79,58.60 575.05,58.60 575.32,58.60 575.59,58.60 575.85,58.60 576.12,58.60 576.38,58.60 576.65,58.60 576.92,58.60 577.18,58.60 577.45,58.60 577.71,58.60 577.98,58.60 578.25,58.60 578.51,58.60 578.78,58.60 579.04,58.60 579.31,58.60 579.58,58.60 579.84,58.60 580.11,58.60 580.37,58.60 580.64,58.60 580.91,58.60 581.17,58.60 581.44,58.60 581.70,58.60 581.97,58.60 582.24,58.60 582.50,58.60 582.77,58.60 583.03,58.60 583.30,58.60 583.57,58.60 583.83,58.60 584.10,58.60 584.36,58.60 584.63,58.60 584.90,58.60 585.16,58.60 585.43,58.60 585.69,58.60 585.96,58.60 586.23,58.60 586.49,58.60 586.76,58.60 587.02,58.60 587.29,58.60 587.56,58.60 587.82,58.60 588.09,58.60 588.36,58.60 588.62,58.60 588.89,58.60 589.15,58.60 589.42,58.60 589.69,58.60 589.95,58.60 590.22,58.60 590.48,58.60 590.75,58.60 591.02,58.60 591.28,58.60 591.55,58.60 591.81,58.60 592.08,58.60 592.35,58.60 592.61,58.60 592.88,58.60 593.14,58.60 593.41,58.60 593.68,58.60 593.94,58.60 594.21,58.60 594.47,58.60 594.74,58.60 595.01,58.60 595.27,58.60 595.54,58.60 595.80,58.60 596.07,58.60 596.34,58.60 596.60,58.60 596.87,58.60 597.13,58.60 597.40,58.60 597.67,58.60 597.93,58.60 598.20,58.60 598.46,58.60 598.73,58.60 599.00,58.60 599.26,58.60 599.53,58.60 599.79,58.60 600.06,58.60 600.33,58.60 600.59,58.60 600.86,58.60 601.12,58.60 601.39,58.60 601.66,58.60 601.92,58.60 602.19,58.60 602.45,58.60 602.72,58.60 602.99,58.60 603.25,58.60 603.52,58.60 603.78,58.60 604.05,58.60 604.32,58.60 604.58,58.60 604.85,58.60 605.11,58.60 605.38,58.60 605.65,58.60 605.91,58.60 606.18,58.60 606.44,58.61 606.71,58.61 606.98,58.61 607.24,58.61 607.51,58.62 607.77,58.62 608.04,58.63 608.31,58.63 608.57,58.64 608.84,58.65 609.11,58.66 609.37,58.67 609.64,58.68 609.90,58.70 610.17,58.72 610.44,58.75 610.70,58.78 610.97,58.82 611.23,58.87 611.50,58.92 611.77,58.99 612.03,59.07 612.30,59.17 612.56,59.29 612.83,59.43 613.10,59.60 613.36,59.80 613.63,60.04 613.89,60.34 614.16,60.68 614.43,61.10 614.69,61.59 614.96,62.16 615.22,62.84 615.49,63.63 615.76,64.55 616.02,65.61 616.29,66.82 616.55,68.19 616.82,69.72 617.09,71.40 617.35,73.24 617.62,75.22 617.88,77.30 618.15,79.47 618.42,81.67 618.68,83.89 618.95,86.07 619.21,88.17 619.48,90.18 619.75,92.05 620.01,93.78 620.28,95.35 620.54,96.75 620.81,98.00 621.08,99.10 621.34,100.05 621.61,100.87 621.87,101.58 622.14,102.18 622.41,102.69 622.67,103.12 622.94,103.48 623.20,103.79 623.47,104.04 623.74,104.25 624.00,104.43 624.27,104.58 624.53,104.70 624.80,104.80 625.07,104.89 625.33,104.96 625.60,105.02 625.86,105.07 626.13,105.11 626.40,105.14 626.66,105.17 626.93,105.19 627.19,105.21 627.46,105.23 627.73,105.24 627.99,105.25 628.26,105.26 628.52,105.26 628.79,105.27 629.06,105.28 629.32,105.28 629.59,105.28 629.85,105.29 630.12,105.29 630.39,105.29 630.65,105.29 630.92,105.29 631.19,105.29 631.45,105.30 631.72,105.30 631.98,105.30 632.25,105.30 632.52,105.30 632.78,105.30 633.05,105.30 633.31,105.30 633.58,105.30 633.85,105.30 634.11,105.30 634.38,105.30 634.64,105.30 634.91,105.30 635.18,105.30 635.44,105.30 635.71,105.30 635.97,105.30 636.24,105.30 636.51,105.30 636.77,105.30 637.04,105.30 637.30,105.30 637.57,105.30 637.84,105.30 638.10,105.30 638.37,105.30 638.63,105.30 638.90,105.30 639.17,105.30 639.43,105.30 639.70,105.30 639.96,105.30 640.23,105.30 640.50,105.30 640.76,105.30 641.03,105.30 641.29,105.30 641.56,105.30 641.83,105.30 642.09,105.30 642.36,105.30 642.62,105.30 642.89,105.30 643.16,105.30 643.42,105.30 643.69,105.30 643.95,105.30 644.22,105.30 644.49,105.30 644.75,105.30 645.02,105.30 645.28,105.30 645.55,105.30 645.82,105.30 646.08,105.30 646.35,105.30 646.61,105.30 646.88,105.30 647.15,105.30 647.41,105.30 647.68,105.30 647.94,105.30 648.21,105.30 648.48,105.30 648.74,105.30 649.01,105.30 649.27,105.30 649.54,105.30 649.81,105.30 650.07,105.30 650.34,105.30 650.60,105.30 650.87,105.30 651.14,105.30 651.40,105.30 651.67,105.30 651.94,105.30 652.20,105.30 652.47,105.30 652.73,105.30 653.00,105.30 653.27,105.30 653.53,105.30 653.80,105.30 654.06,105.30 654.33,105.30 654.60,105.30 654.86,105.30 655.13,105.30 655.39,105.30 655.66,105.30 655.93,105.30 656.19,105.30 656.46,105.30 656.72,105.30 656.99,105.30 657.26,105.30 657.52,105.30 657.79,105.30 658.05,105.30 658.32,105.30 658.59,105.30 658.85,105.30 659.12,105.30 659.38,105.30 659.65,105.30 659.92,105.30 660.18,105.30 660.45,105.30 660.71,105.30 660.98,105.30 661.25,105.30 661.51,105.30 661.78,105.30 662.04,105.30 662.31,105.30" fill="none" stroke="#f00" stroke-width="1.0"/><circle cx="555.9" cy="60.39" r="1.0" fill="#888"/><line x1="594.81" y1="53.88" x2="594.81" y2="57.74" stroke="#888" stroke-width="1.0"/><line x1="593.01" y1="53.88" x2="596.61" y2="53.88" stroke="#888" stroke-width="1.0"/><line x1="593.01" y1="57.74" x2="596.61" y2="57.74" stroke="#888" stroke-width="1.0"/><circle cx="594.81" cy="55.81" r="1.45" fill="#888"/><line x1="605.48" y1="56.8" x2="605.48" y2="60.39" stroke="#888" stroke-width="1.0"/><line x1="603.68" y1="56.8" x2="607.28" y2="56.8" stroke="#888" stroke-width="1.0"/><line x1="603.68" y1="60.39" x2="607.28" y2="60.39" stroke="#888" stroke-width="1.0"/><circle cx="605.48" cy="58.6" r="1.45" fill="#888"/><line x1="616.16" y1="60.03" x2="616.16" y2="67.94" stroke="#888" stroke-width="1.0"/><line x1="614.36" y1="60.03" x2="617.96" y2="60.03" stroke="#888" stroke-width="1.0"/><line x1="614.36" y1="67.94" x2="617.96" y2="67.94" stroke="#888" stroke-width="1.0"/><circle cx="616.16" cy="63.99" r="1.45" fill="#888"/><circle cx="626.84" cy="104.63" r="1.45" fill="#888"/><circle cx="640.95" cy="104.63" r="1.45" fill="#888"/><circle cx="651.63" cy="104.85" r="1.45" fill="#888"/><circle cx="662.31" cy="104.85" r="1.45" fill="#888"/></g>
<g><text x="93.6" y="148.1" font-size="7.5" text-anchor="middle">K1</text><line x1="37" y1="207.69" x2="152.43" y2="207.69" stroke="#333" stroke-width="1" stroke-dasharray="1.15 1.14"/><line x1="36" y1="157.35" x2="36" y2="237.55" stroke="#222" stroke-width="0.95"/><line x1="33.85" y1="235.4" x2="152.43" y2="235.4" stroke="#222" stroke-width="0.95"/><line x1="33.85" y1="235.4" x2="36" y2="235.4" stroke="#222" stroke-width="0.95"/><text x="33.09" y="237.72" font-size="5.71" text-anchor="end">0.0</text><line x1="33.85" y1="224.31" x2="36" y2="224.31" stroke="#222" stroke-width="0.95"/><text x="33.09" y="226.63" font-size="5.71" text-anchor="end">0.2</text><line x1="33.85" y1="213.23" x2="36" y2="213.23" stroke="#222" stroke-width="0.95"/><text x="33.09" y="215.54" font-size="5.71" text-anchor="end">0.4</text><line x1="33.85" y1="202.14" x2="36" y2="202.14" stroke="#222" stroke-width="0.95"/><text x="33.09" y="204.46" font-size="5.71" text-anchor="end">0.6</text><line x1="33.85" y1="191.06" x2="36" y2="191.06" stroke="#222" stroke-width="0.95"/><text x="33.09" y="193.37" font-size="5.71" text-anchor="end">0.8</text><line x1="33.85" y1="179.97" x2="36" y2="179.97" stroke="#222" stroke-width="0.95"/><text x="33.09" y="182.29" font-size="5.71" text-anchor="end">1.0</text><line x1="33.85" y1="168.89" x2="36" y2="168.89" stroke="#222" stroke-width="0.95"/><text x="33.09" y="171.2" font-size="5.71" text-anchor="end">1.2</text><line x1="33.85" y1="157.8" x2="36" y2="157.8" stroke="#222" stroke-width="0.95"/><text x="33.09" y="160.12" font-size="5.71" text-anchor="end">1.4</text><line x1="36" y1="235.4" x2="36" y2="237.55" stroke="#222" stroke-width="0.8"/><line x1="47.5" y1="235.4" x2="47.5" y2="236.69" stroke="#222" stroke-width="0.8"/><line x1="54.23" y1="235.4" x2="54.23" y2="236.69" stroke="#222" stroke-width="0.8"/><line x1="59" y1="235.4" x2="59" y2="236.69" stroke="#222" stroke-width="0.8"/><line x1="62.7" y1="235.4" x2="62.7" y2="236.69" stroke="#222" stroke-width="0.8"/><line x1="65.73" y1="235.4" x2="65.73" y2="236.69" stroke="#222" stroke-width="0.8"/><line x1="68.28" y1="235.4" x2="68.28" y2="236.69" stroke="#222" stroke-width="0.8"/><line x1="70.5" y1="235.4" x2="70.5" y2="236.69" stroke="#222" stroke-width="0.8"/><line x1="72.45" y1="235.4" x2="72.45" y2="236.69" stroke="#222" stroke-width="0.8"/><line x1="74.2" y1="235.4" x2="74.2" y2="237.55" stroke="#222" stroke-width="0.8"/><line x1="85.7" y1="235.4" x2="85.7" y2="236.69" stroke="#222" stroke-width="0.8"/><line x1="92.43" y1="235.4" x2="92.43" y2="236.69" stroke="#222" stroke-width="0.8"/><line x1="97.2" y1="235.4" x2="97.2" y2="236.69" stroke="#222" stroke-width="0.8"/><line x1="100.9" y1="235.4" x2="100.9" y2="236.69" stroke="#222" stroke-width="0.8"/><line x1="103.93" y1="235.4" x2="103.93" y2="236.69" stroke="#222" stroke-width="0.8"/><line x1="106.48" y1="235.4" x2="106.48" y2="236.69" stroke="#222" stroke-width="0.8"/><line x1="108.7" y1="235.4" x2="108.7" y2="236.69" stroke="#222" stroke-width="0.8"/><line x1="110.65" y1="235.4" x2="110.65" y2="236.69" stroke="#222" stroke-width="0.8"/><line x1="112.4" y1="235.4" x2="112.4" y2="237.55" stroke="#222" stroke-width="0.8"/><line x1="123.9" y1="235.4" x2="123.9" y2="236.69" stroke="#222" stroke-width="0.8"/><line x1="130.63" y1="235.4" x2="130.63" y2="236.69" stroke="#222" stroke-width="0.8"/><line x1="135.4" y1="235.4" x2="135.4" y2="236.69" stroke="#222" stroke-width="0.8"/><line x1="139.1" y1="235.4" x2="139.1" y2="236.69" stroke="#222" stroke-width="0.8"/><line x1="142.13" y1="235.4" x2="142.13" y2="236.69" stroke="#222" stroke-width="0.8"/><line x1="144.68" y1="235.4" x2="144.68" y2="236.69" stroke="#222" stroke-width="0.8"/><line x1="146.9" y1="235.4" x2="146.9" y2="236.69" stroke="#222" stroke-width="0.8"/><line x1="148.85" y1="235.4" x2="148.85" y2="236.69" stroke="#222" stroke-width="0.8"/><line x1="150.6" y1="235.4" x2="150.6" y2="237.55" stroke="#222" stroke-width="0.8"/><text x="36" y="243.85" font-size="5.71" text-anchor="middle">0.1</text><text x="74.2" y="243.85" font-size="5.71" text-anchor="middle">1</text><text x="112.4" y="243.85" font-size="5.71" text-anchor="middle">10</text><text x="150.6" y="243.85" font-size="5.71" text-anchor="middle">100</text><text x="94" y="252.15" font-size="6.46" text-anchor="middle">µM BSO</text><text transform="translate(21.27,196.6) rotate(-90) scale(0.845,1)" font-size="7.11" stroke="#000" stroke-width="0.2" text-anchor="middle">Surviving fraction</text><polyline points="36.00,183.52 36.29,183.52 36.57,183.52 36.86,183.52 37.15,183.52 37.43,183.52 37.72,183.52 38.01,183.52 38.29,183.52 38.58,183.52 38.86,183.52 39.15,183.52 39.44,183.52 39.72,183.52 40.01,183.52 40.30,183.52 40.58,183.52 40.87,183.52 41.16,183.52 41.44,183.52 41.73,183.52 42.02,183.52 42.30,183.52 42.59,183.52 42.88,183.52 43.16,183.52 43.45,183.52 43.74,183.52 44.02,183.52 44.31,183.52 44.59,183.52 44.88,183.52 45.17,183.52 45.45,183.52 45.74,183.52 46.03,183.52 46.31,183.52 46.60,183.52 46.89,183.52 47.17,183.52 47.46,183.52 47.75,183.52 48.03,183.52 48.32,183.52 48.61,183.52 48.89,183.52 49.18,183.52 49.47,183.52 49.75,183.52 50.04,183.52 50.33,183.52 50.61,183.52 50.90,183.52 51.18,183.52 51.47,183.52 51.76,183.52 52.04,183.52 52.33,183.52 52.62,183.52 52.90,183.52 53.19,183.52 53.48,183.52 53.76,183.52 54.05,183.52 54.34,183.52 54.62,183.52 54.91,183.52 55.20,183.52 55.48,183.52 55.77,183.52 56.06,183.52 56.34,183.52 56.63,183.52 56.91,183.52 57.20,183.52 57.49,183.52 57.77,183.52 58.06,183.52 58.35,183.52 58.63,183.52 58.92,183.52 59.21,183.52 59.49,183.52 59.78,183.52 60.07,183.52 60.35,183.52 60.64,183.52 60.93,183.52 61.21,183.52 61.50,183.52 61.79,183.52 62.07,183.52 62.36,183.52 62.64,183.52 62.93,183.52 63.22,183.52 63.50,183.52 63.79,183.52 64.08,183.52 64.36,183.52 64.65,183.52 64.94,183.52 65.22,183.52 65.51,183.52 65.80,183.52 66.08,183.52 66.37,183.52 66.66,183.52 66.94,183.52 67.23,183.52 67.52,183.52 67.80,183.52 68.09,183.52 68.37,183.52 68.66,183.52 68.95,183.52 69.23,183.52 69.52,183.52 69.81,183.52 70.09,183.52 70.38,183.52 70.67,183.52 70.95,183.52 71.24,183.52 71.53,183.52 71.81,183.52 72.10,183.52 72.39,183.52 72.67,183.52 72.96,183.52 73.25,183.52 73.53,183.52 73.82,183.52 74.10,183.52 74.39,183.52 74.68,183.52 74.96,183.52 75.25,183.52 75.54,183.52 75.82,183.52 76.11,183.52 76.40,183.52 76.68,183.52 76.97,183.52 77.26,183.52 77.54,183.52 77.83,183.52 78.12,183.52 78.40,183.52 78.69,183.52 78.97,183.52 79.26,183.52 79.55,183.52 79.83,183.52 80.12,183.52 80.41,183.52 80.69,183.52 80.98,183.52 81.27,183.52 81.55,183.52 81.84,183.52 82.13,183.52 82.41,183.52 82.70,183.52 82.99,183.52 83.27,183.52 83.56,183.52 83.85,183.52 84.13,183.52 84.42,183.52 84.70,183.52 84.99,183.52 85.28,183.52 85.56,183.52 85.85,183.52 86.14,183.52 86.42,183.52 86.71,183.52 87.00,183.52 87.28,183.52 87.57,183.52 87.86,183.52 88.14,183.52 88.43,183.52 88.72,183.52 89.00,183.52 89.29,183.52 89.58,183.52 89.86,183.52 90.15,183.52 90.44,183.52 90.72,183.52 91.01,183.52 91.29,183.52 91.58,183.52 91.87,183.52 92.15,183.52 92.44,183.52 92.73,183.52 93.01,183.52 93.30,183.52 93.59,183.52 93.87,183.52 94.16,183.52 94.45,183.52 94.73,183.52 95.02,183.52 95.31,183.52 95.59,183.52 95.88,183.52 96.17,183.52 96.45,183.52 96.74,183.52 97.02,183.52 97.31,183.52 97.60,183.52 97.88,183.52 98.17,183.52 98.46,183.52 98.74,183.52 99.03,183.52 99.32,183.52 99.60,183.52 99.89,183.52 100.18,183.52 100.46,183.52 100.75,183.52 101.04,183.52 101.32,183.52 101.61,183.52 101.90,183.52 102.18,183.52 102.47,183.52 102.75,183.52 103.04,183.52 103.33,183.52 103.61,183.52 103.90,183.52 104.19,183.52 104.47,183.52 104.76,183.52 105.05,183.52 105.33,183.52 105.62,183.52 105.91,183.52 106.19,183.52 106.48,183.52 106.77,183.52 107.05,183.52 107.34,183.52 107.62,183.52 107.91,183.52 108.20,183.52 108.48,183.52 108.77,183.52 109.06,183.52 109.34,183.52 109.63,183.52 109.92,183.52 110.20,183.52 110.49,183.52 110.78,183.52 111.06,183.52 111.35,183.52 111.64,183.52 111.92,183.52 112.21,183.52 112.50,183.52 112.78,183.52 113.07,183.52 113.36,183.52 113.64,183.52 113.93,183.52 114.21,183.52 114.50,183.52 114.79,183.52 115.07,183.52 115.36,183.52 115.65,183.52 115.93,183.52 116.22,183.52 116.51,183.52 116.79,183.52 117.08,183.52 117.37,183.52 117.65,183.52 117.94,183.52 118.23,183.52 118.51,183.52 118.80,183.52 119.08,183.52 119.37,183.52 119.66,183.52 119.94,183.52 120.23,183.52 120.52,183.52 120.80,183.52 121.09,183.52 121.38,183.52 121.66,183.52 121.95,183.52 122.24,183.52 122.52,183.52 122.81,183.52 123.10,183.52 123.38,183.52 123.67,183.52 123.96,183.52 124.24,183.52 124.53,183.52 124.82,183.52 125.10,183.52 125.39,183.52 125.67,183.52 125.96,183.52 126.25,183.52 126.53,183.52 126.82,183.52 127.11,183.52 127.39,183.52 127.68,183.52 127.97,183.52 128.25,183.52 128.54,183.52 128.83,183.52 129.11,183.52 129.40,183.52 129.69,183.52 129.97,183.52 130.26,183.52 130.55,183.52 130.83,183.52 131.12,183.52 131.40,183.52 131.69,183.52 131.98,183.52 132.26,183.52 132.55,183.52 132.84,183.52 133.12,183.52 133.41,183.52 133.70,183.52 133.98,183.52 134.27,183.52 134.56,183.52 134.84,183.52 135.13,183.52 135.42,183.52 135.70,183.52 135.99,183.52 136.28,183.52 136.56,183.52 136.85,183.52 137.13,183.52 137.42,183.52 137.71,183.53 137.99,183.55 138.28,183.65 138.57,184.04 138.85,185.40 139.14,189.02 139.43,194.18 139.71,197.48 140.00,198.65 140.29,198.98 140.57,199.07 140.86,199.09 141.15,199.09 141.43,199.09 141.72,199.09 142.00,199.09 142.29,199.09 142.58,199.09 142.86,199.09 143.15,199.09 143.44,199.09 143.72,199.09 144.01,199.09 144.30,199.09 144.58,199.09 144.87,199.09 145.16,199.09 145.44,199.09 145.73,199.09 146.02,199.09 146.30,199.09 146.59,199.09 146.88,199.09 147.16,199.09 147.45,199.09 147.74,199.09 148.02,199.09 148.31,199.09 148.59,199.09 148.88,199.09 149.17,199.09 149.45,199.09 149.74,199.09 150.03,199.09 150.31,199.09 150.60,199.09" fill="none" stroke="#f00" stroke-width="1.05"/><circle cx="36" cy="179.97" r="1.5" fill="#000"/><line x1="77.9" y1="177.75" x2="77.9" y2="186.07" stroke="#000" stroke-width="1.25"/><line x1="75.9" y1="177.75" x2="79.9" y2="177.75" stroke="#000" stroke-width="1.3"/><line x1="75.9" y1="186.07" x2="79.9" y2="186.07" stroke="#000" stroke-width="1.3"/><circle cx="77.9" cy="181.91" r="1.5" fill="#000"/><line x1="89.4" y1="176.87" x2="89.4" y2="188.29" stroke="#000" stroke-width="1.25"/><line x1="87.4" y1="176.87" x2="91.4" y2="176.87" stroke="#000" stroke-width="1.3"/><line x1="87.4" y1="188.29" x2="91.4" y2="188.29" stroke="#000" stroke-width="1.3"/><circle cx="89.4" cy="182.58" r="1.5" fill="#000"/><line x1="100.9" y1="179.86" x2="100.9" y2="187.29" stroke="#000" stroke-width="1.25"/><line x1="98.9" y1="179.86" x2="102.9" y2="179.86" stroke="#000" stroke-width="1.3"/><line x1="98.9" y1="187.29" x2="102.9" y2="187.29" stroke="#000" stroke-width="1.3"/><circle cx="100.9" cy="183.57" r="1.5" fill="#000"/><line x1="112.4" y1="182.96" x2="112.4" y2="189.62" stroke="#000" stroke-width="1.25"/><line x1="110.4" y1="182.96" x2="114.4" y2="182.96" stroke="#000" stroke-width="1.3"/><line x1="110.4" y1="189.62" x2="114.4" y2="189.62" stroke="#000" stroke-width="1.3"/><circle cx="112.4" cy="186.29" r="1.5" fill="#000"/><line x1="127.6" y1="182.58" x2="127.6" y2="191.22" stroke="#000" stroke-width="1.25"/><line x1="125.6" y1="182.58" x2="129.6" y2="182.58" stroke="#000" stroke-width="1.3"/><line x1="125.6" y1="191.22" x2="129.6" y2="191.22" stroke="#000" stroke-width="1.3"/><circle cx="127.6" cy="186.9" r="1.5" fill="#000"/><circle cx="139.1" cy="191.33" r="1.5" fill="#000"/><line x1="150.6" y1="195.66" x2="150.6" y2="202.53" stroke="#000" stroke-width="1.25"/><line x1="148.6" y1="195.66" x2="152.6" y2="195.66" stroke="#000" stroke-width="1.3"/><line x1="148.6" y1="202.53" x2="152.6" y2="202.53" stroke="#000" stroke-width="1.3"/><circle cx="150.6" cy="199.09" r="1.5" fill="#000"/></g>
<g><text x="267.2" y="148.1" font-size="7.5" text-anchor="middle">K2</text><line x1="210" y1="207.69" x2="326.03" y2="207.69" stroke="#333" stroke-width="1" stroke-dasharray="1.15 1.14"/><line x1="209.6" y1="157.35" x2="209.6" y2="237.55" stroke="#222" stroke-width="0.95"/><line x1="207.45" y1="235.4" x2="326.03" y2="235.4" stroke="#222" stroke-width="0.95"/><line x1="207.45" y1="235.4" x2="209.6" y2="235.4" stroke="#222" stroke-width="0.95"/><text x="206.69" y="237.72" font-size="5.71" text-anchor="end">0.0</text><line x1="207.45" y1="224.31" x2="209.6" y2="224.31" stroke="#222" stroke-width="0.95"/><text x="206.69" y="226.63" font-size="5.71" text-anchor="end">0.2</text><line x1="207.45" y1="213.23" x2="209.6" y2="213.23" stroke="#222" stroke-width="0.95"/><text x="206.69" y="215.54" font-size="5.71" text-anchor="end">0.4</text><line x1="207.45" y1="202.14" x2="209.6" y2="202.14" stroke="#222" stroke-width="0.95"/><text x="206.69" y="204.46" font-size="5.71" text-anchor="end">0.6</text><line x1="207.45" y1="191.06" x2="209.6" y2="191.06" stroke="#222" stroke-width="0.95"/><text x="206.69" y="193.37" font-size="5.71" text-anchor="end">0.8</text><line x1="207.45" y1="179.97" x2="209.6" y2="179.97" stroke="#222" stroke-width="0.95"/><text x="206.69" y="182.29" font-size="5.71" text-anchor="end">1.0</text><line x1="207.45" y1="168.89" x2="209.6" y2="168.89" stroke="#222" stroke-width="0.95"/><text x="206.69" y="171.2" font-size="5.71" text-anchor="end">1.2</text><line x1="207.45" y1="157.8" x2="209.6" y2="157.8" stroke="#222" stroke-width="0.95"/><text x="206.69" y="160.12" font-size="5.71" text-anchor="end">1.4</text><line x1="209.6" y1="235.4" x2="209.6" y2="237.55" stroke="#222" stroke-width="0.8"/><line x1="221.1" y1="235.4" x2="221.1" y2="236.69" stroke="#222" stroke-width="0.8"/><line x1="227.83" y1="235.4" x2="227.83" y2="236.69" stroke="#222" stroke-width="0.8"/><line x1="232.6" y1="235.4" x2="232.6" y2="236.69" stroke="#222" stroke-width="0.8"/><line x1="236.3" y1="235.4" x2="236.3" y2="236.69" stroke="#222" stroke-width="0.8"/><line x1="239.33" y1="235.4" x2="239.33" y2="236.69" stroke="#222" stroke-width="0.8"/><line x1="241.88" y1="235.4" x2="241.88" y2="236.69" stroke="#222" stroke-width="0.8"/><line x1="244.1" y1="235.4" x2="244.1" y2="236.69" stroke="#222" stroke-width="0.8"/><line x1="246.05" y1="235.4" x2="246.05" y2="236.69" stroke="#222" stroke-width="0.8"/><line x1="247.8" y1="235.4" x2="247.8" y2="237.55" stroke="#222" stroke-width="0.8"/><line x1="259.3" y1="235.4" x2="259.3" y2="236.69" stroke="#222" stroke-width="0.8"/><line x1="266.03" y1="235.4" x2="266.03" y2="236.69" stroke="#222" stroke-width="0.8"/><line x1="270.8" y1="235.4" x2="270.8" y2="236.69" stroke="#222" stroke-width="0.8"/><line x1="274.5" y1="235.4" x2="274.5" y2="236.69" stroke="#222" stroke-width="0.8"/><line x1="277.53" y1="235.4" x2="277.53" y2="236.69" stroke="#222" stroke-width="0.8"/><line x1="280.08" y1="235.4" x2="280.08" y2="236.69" stroke="#222" stroke-width="0.8"/><line x1="282.3" y1="235.4" x2="282.3" y2="236.69" stroke="#222" stroke-width="0.8"/><line x1="284.25" y1="235.4" x2="284.25" y2="236.69" stroke="#222" stroke-width="0.8"/><line x1="286" y1="235.4" x2="286" y2="237.55" stroke="#222" stroke-width="0.8"/><line x1="297.5" y1="235.4" x2="297.5" y2="236.69" stroke="#222" stroke-width="0.8"/><line x1="304.23" y1="235.4" x2="304.23" y2="236.69" stroke="#222" stroke-width="0.8"/><line x1="309" y1="235.4" x2="309" y2="236.69" stroke="#222" stroke-width="0.8"/><line x1="312.7" y1="235.4" x2="312.7" y2="236.69" stroke="#222" stroke-width="0.8"/><line x1="315.73" y1="235.4" x2="315.73" y2="236.69" stroke="#222" stroke-width="0.8"/><line x1="318.28" y1="235.4" x2="318.28" y2="236.69" stroke="#222" stroke-width="0.8"/><line x1="320.5" y1="235.4" x2="320.5" y2="236.69" stroke="#222" stroke-width="0.8"/><line x1="322.45" y1="235.4" x2="322.45" y2="236.69" stroke="#222" stroke-width="0.8"/><line x1="324.2" y1="235.4" x2="324.2" y2="237.55" stroke="#222" stroke-width="0.8"/><text x="209.6" y="243.85" font-size="5.71" text-anchor="middle">0.1</text><text x="247.8" y="243.85" font-size="5.71" text-anchor="middle">1</text><text x="286" y="243.85" font-size="5.71" text-anchor="middle">10</text><text x="324.2" y="243.85" font-size="5.71" text-anchor="middle">100</text><text x="267.6" y="252.15" font-size="6.46" text-anchor="middle">µM BSO</text><text transform="translate(194.87,196.6) rotate(-90) scale(0.845,1)" font-size="7.11" stroke="#000" stroke-width="0.2" text-anchor="middle">Surviving fraction</text><polyline points="209.60,180.14 209.89,180.13 210.17,180.13 210.46,180.12 210.75,180.12 211.03,180.11 211.32,180.11 211.61,180.10 211.89,180.10 212.18,180.09 212.47,180.08 212.75,180.08 213.04,180.07 213.32,180.06 213.61,180.05 213.90,180.05 214.18,180.04 214.47,180.03 214.76,180.02 215.04,180.01 215.33,180.00 215.62,179.99 215.90,179.98 216.19,179.97 216.48,179.96 216.76,179.95 217.05,179.93 217.34,179.92 217.62,179.91 217.91,179.89 218.19,179.88 218.48,179.86 218.77,179.85 219.05,179.83 219.34,179.82 219.63,179.80 219.91,179.78 220.20,179.76 220.49,179.74 220.77,179.72 221.06,179.70 221.35,179.68 221.63,179.66 221.92,179.63 222.21,179.61 222.49,179.58 222.78,179.56 223.07,179.53 223.35,179.50 223.64,179.47 223.92,179.44 224.21,179.41 224.50,179.38 224.78,179.35 225.07,179.31 225.36,179.28 225.64,179.24 225.93,179.20 226.22,179.16 226.50,179.12 226.79,179.08 227.08,179.04 227.36,178.99 227.65,178.95 227.94,178.90 228.22,178.85 228.51,178.80 228.80,178.75 229.08,178.70 229.37,178.64 229.66,178.58 229.94,178.53 230.23,178.47 230.51,178.41 230.80,178.34 231.09,178.28 231.37,178.22 231.66,178.15 231.95,178.08 232.23,178.01 232.52,177.94 232.81,177.86 233.09,177.79 233.38,177.71 233.67,177.63 233.95,177.56 234.24,177.47 234.53,177.39 234.81,177.31 235.10,177.22 235.38,177.14 235.67,177.05 235.96,176.96 236.24,176.87 236.53,176.78 236.82,176.69 237.10,176.60 237.39,176.50 237.68,176.41 237.96,176.31 238.25,176.22 238.54,176.12 238.82,176.02 239.11,175.92 239.40,175.83 239.68,175.73 239.97,175.63 240.26,175.53 240.54,175.43 240.83,175.33 241.12,175.23 241.40,175.14 241.69,175.04 241.97,174.94 242.26,174.84 242.55,174.75 242.83,174.65 243.12,174.55 243.41,174.46 243.69,174.37 243.98,174.27 244.27,174.18 244.55,174.09 244.84,174.00 245.13,173.91 245.41,173.82 245.70,173.74 245.99,173.65 246.27,173.57 246.56,173.49 246.84,173.41 247.13,173.33 247.42,173.25 247.70,173.17 247.99,173.10 248.28,173.02 248.56,172.95 248.85,172.88 249.14,172.81 249.42,172.75 249.71,172.68 250.00,172.62 250.28,172.56 250.57,172.49 250.86,172.44 251.14,172.38 251.43,172.32 251.72,172.27 252.00,172.21 252.29,172.16 252.57,172.11 252.86,172.06 253.15,172.02 253.43,171.97 253.72,171.93 254.01,171.88 254.29,171.84 254.58,171.80 254.87,171.76 255.15,171.72 255.44,171.69 255.73,171.65 256.01,171.62 256.30,171.58 256.59,171.55 256.87,171.52 257.16,171.49 257.45,171.46 257.73,171.43 258.02,171.41 258.31,171.38 258.59,171.35 258.88,171.33 259.16,171.31 259.45,171.28 259.74,171.26 260.02,171.24 260.31,171.22 260.60,171.20 260.88,171.18 261.17,171.16 261.46,171.15 261.74,171.13 262.03,171.11 262.32,171.10 262.60,171.08 262.89,171.07 263.18,171.06 263.46,171.04 263.75,171.03 264.03,171.02 264.32,171.01 264.61,170.99 264.89,170.98 265.18,170.97 265.47,170.96 265.75,170.95 266.04,170.94 266.33,170.93 266.61,170.92 266.90,170.92 267.19,170.91 267.47,170.90 267.76,170.89 268.05,170.89 268.33,170.88 268.62,170.87 268.91,170.87 269.19,170.86 269.48,170.85 269.76,170.85 270.05,170.84 270.34,170.84 270.62,170.83 270.91,170.83 271.20,170.82 271.48,170.82 271.77,170.82 272.06,170.81 272.34,170.81 272.63,170.80 272.92,170.80 273.20,170.80 273.49,170.79 273.78,170.79 274.06,170.79 274.35,170.78 274.64,170.78 274.92,170.78 275.21,170.78 275.50,170.77 275.78,170.77 276.07,170.77 276.35,170.77 276.64,170.76 276.93,170.76 277.21,170.76 277.50,170.76 277.79,170.76 278.07,170.76 278.36,170.75 278.65,170.75 278.93,170.75 279.22,170.75 279.51,170.75 279.79,170.75 280.08,170.75 280.37,170.74 280.65,170.74 280.94,170.74 281.23,170.74 281.51,170.74 281.80,170.74 282.08,170.74 282.37,170.74 282.66,170.74 282.94,170.74 283.23,170.73 283.52,170.73 283.80,170.73 284.09,170.73 284.38,170.73 284.66,170.73 284.95,170.73 285.24,170.73 285.52,170.73 285.81,170.73 286.10,170.73 286.38,170.73 286.67,170.73 286.95,170.73 287.24,170.73 287.53,170.73 287.81,170.72 288.10,170.72 288.39,170.72 288.67,170.72 288.96,170.72 289.25,170.72 289.53,170.72 289.82,170.72 290.11,170.72 290.39,170.72 290.68,170.72 290.97,170.72 291.25,170.72 291.54,170.72 291.83,170.72 292.11,170.72 292.40,170.72 292.69,170.72 292.97,170.72 293.26,170.72 293.54,170.72 293.83,170.72 294.12,170.72 294.40,170.72 294.69,170.72 294.98,170.72 295.26,170.72 295.55,170.72 295.84,170.72 296.12,170.72 296.41,170.72 296.70,170.72 296.98,170.72 297.27,170.72 297.56,170.72 297.84,170.72 298.13,170.72 298.42,170.72 298.70,170.72 298.99,170.72 299.27,170.72 299.56,170.72 299.85,170.72 300.13,170.72 300.42,170.72 300.71,170.72 300.99,170.72 301.28,170.72 301.57,170.72 301.85,170.72 302.14,170.72 302.43,170.72 302.71,170.72 303.00,170.72 303.29,170.72 303.57,170.72 303.86,170.72 304.14,170.72 304.43,170.72 304.72,170.72 305.00,170.72 305.29,170.72 305.58,170.72 305.86,170.72 306.15,170.72 306.44,170.72 306.72,170.72 307.01,170.72 307.30,170.72 307.58,170.72 307.87,170.72 308.16,170.72 308.44,170.72 308.73,170.72 309.02,170.72 309.30,170.72 309.59,170.72 309.88,170.72 310.16,170.72 310.45,170.72 310.73,170.72 311.02,170.72 311.31,170.72 311.59,170.72 311.88,170.72 312.17,170.72 312.45,170.72 312.74,170.72 313.03,170.72 313.31,170.72 313.60,170.72 313.89,170.72 314.17,170.72 314.46,170.72 314.75,170.72 315.03,170.72 315.32,170.72 315.61,170.72 315.89,170.72 316.18,170.72 316.46,170.72 316.75,170.72 317.04,170.72 317.32,170.71 317.61,170.71 317.90,170.71 318.18,170.71 318.47,170.71 318.76,170.71 319.04,170.71 319.33,170.71 319.62,170.71 319.90,170.71 320.19,170.71 320.48,170.71 320.76,170.71 321.05,170.71 321.33,170.71 321.62,170.71 321.91,170.71 322.19,170.71 322.48,170.71 322.77,170.71 323.05,170.71 323.34,170.71 323.63,170.71 323.91,170.71 324.20,170.71" fill="none" stroke="#f00" stroke-width="1.05"/><circle cx="209.6" cy="179.97" r="1.5" fill="#000"/><line x1="251.5" y1="170.11" x2="251.5" y2="175.09" stroke="#000" stroke-width="1.25"/><line x1="249.5" y1="170.11" x2="253.5" y2="170.11" stroke="#000" stroke-width="1.3"/><line x1="249.5" y1="175.09" x2="253.5" y2="175.09" stroke="#000" stroke-width="1.3"/><circle cx="251.5" cy="172.6" r="1.5" fill="#000"/><line x1="263" y1="164.62" x2="263" y2="172.93" stroke="#000" stroke-width="1.25"/><line x1="261" y1="164.62" x2="265" y2="164.62" stroke="#000" stroke-width="1.3"/><line x1="261" y1="172.93" x2="265" y2="172.93" stroke="#000" stroke-width="1.3"/><circle cx="263" cy="168.77" r="1.5" fill="#000"/><line x1="274.5" y1="162.46" x2="274.5" y2="171.1" stroke="#000" stroke-width="1.25"/><line x1="272.5" y1="162.46" x2="276.5" y2="162.46" stroke="#000" stroke-width="1.3"/><line x1="272.5" y1="171.1" x2="276.5" y2="171.1" stroke="#000" stroke-width="1.3"/><circle cx="274.5" cy="166.78" r="1.5" fill="#000"/><line x1="286" y1="163.79" x2="286" y2="176.42" stroke="#000" stroke-width="1.25"/><line x1="284" y1="163.79" x2="288" y2="163.79" stroke="#000" stroke-width="1.3"/><line x1="284" y1="176.42" x2="288" y2="176.42" stroke="#000" stroke-width="1.3"/><circle cx="286" cy="170.11" r="1.5" fill="#000"/><line x1="301.2" y1="163.73" x2="301.2" y2="168.5" stroke="#000" stroke-width="1.25"/><line x1="299.2" y1="163.73" x2="303.2" y2="163.73" stroke="#000" stroke-width="1.3"/><line x1="299.2" y1="168.5" x2="303.2" y2="168.5" stroke="#000" stroke-width="1.3"/><circle cx="301.2" cy="166.11" r="1.5" fill="#000"/><line x1="312.7" y1="165.67" x2="312.7" y2="170.66" stroke="#000" stroke-width="1.25"/><line x1="310.7" y1="165.67" x2="314.7" y2="165.67" stroke="#000" stroke-width="1.3"/><line x1="310.7" y1="170.66" x2="314.7" y2="170.66" stroke="#000" stroke-width="1.3"/><circle cx="312.7" cy="168.17" r="1.5" fill="#000"/><line x1="324.2" y1="187.95" x2="324.2" y2="193.05" stroke="#000" stroke-width="1.25"/><line x1="322.2" y1="187.95" x2="326.2" y2="187.95" stroke="#000" stroke-width="1.3"/><line x1="322.2" y1="193.05" x2="326.2" y2="193.05" stroke="#000" stroke-width="1.3"/><circle cx="324.2" cy="190.5" r="1.5" fill="#000"/></g>
<g><text x="440.1" y="148.1" font-size="7.5" text-anchor="middle">K3</text><line x1="383" y1="207.69" x2="498.93" y2="207.69" stroke="#333" stroke-width="1" stroke-dasharray="1.15 1.14"/><line x1="382.5" y1="157.35" x2="382.5" y2="237.55" stroke="#222" stroke-width="0.95"/><line x1="380.35" y1="235.4" x2="498.93" y2="235.4" stroke="#222" stroke-width="0.95"/><line x1="380.35" y1="235.4" x2="382.5" y2="235.4" stroke="#222" stroke-width="0.95"/><text x="379.59" y="237.72" font-size="5.71" text-anchor="end">0.0</text><line x1="380.35" y1="224.31" x2="382.5" y2="224.31" stroke="#222" stroke-width="0.95"/><text x="379.59" y="226.63" font-size="5.71" text-anchor="end">0.2</text><line x1="380.35" y1="213.23" x2="382.5" y2="213.23" stroke="#222" stroke-width="0.95"/><text x="379.59" y="215.54" font-size="5.71" text-anchor="end">0.4</text><line x1="380.35" y1="202.14" x2="382.5" y2="202.14" stroke="#222" stroke-width="0.95"/><text x="379.59" y="204.46" font-size="5.71" text-anchor="end">0.6</text><line x1="380.35" y1="191.06" x2="382.5" y2="191.06" stroke="#222" stroke-width="0.95"/><text x="379.59" y="193.37" font-size="5.71" text-anchor="end">0.8</text><line x1="380.35" y1="179.97" x2="382.5" y2="179.97" stroke="#222" stroke-width="0.95"/><text x="379.59" y="182.29" font-size="5.71" text-anchor="end">1.0</text><line x1="380.35" y1="168.89" x2="382.5" y2="168.89" stroke="#222" stroke-width="0.95"/><text x="379.59" y="171.2" font-size="5.71" text-anchor="end">1.2</text><line x1="380.35" y1="157.8" x2="382.5" y2="157.8" stroke="#222" stroke-width="0.95"/><text x="379.59" y="160.12" font-size="5.71" text-anchor="end">1.4</text><line x1="382.5" y1="235.4" x2="382.5" y2="237.55" stroke="#222" stroke-width="0.8"/><line x1="394" y1="235.4" x2="394" y2="236.69" stroke="#222" stroke-width="0.8"/><line x1="400.73" y1="235.4" x2="400.73" y2="236.69" stroke="#222" stroke-width="0.8"/><line x1="405.5" y1="235.4" x2="405.5" y2="236.69" stroke="#222" stroke-width="0.8"/><line x1="409.2" y1="235.4" x2="409.2" y2="236.69" stroke="#222" stroke-width="0.8"/><line x1="412.23" y1="235.4" x2="412.23" y2="236.69" stroke="#222" stroke-width="0.8"/><line x1="414.78" y1="235.4" x2="414.78" y2="236.69" stroke="#222" stroke-width="0.8"/><line x1="417" y1="235.4" x2="417" y2="236.69" stroke="#222" stroke-width="0.8"/><line x1="418.95" y1="235.4" x2="418.95" y2="236.69" stroke="#222" stroke-width="0.8"/><line x1="420.7" y1="235.4" x2="420.7" y2="237.55" stroke="#222" stroke-width="0.8"/><line x1="432.2" y1="235.4" x2="432.2" y2="236.69" stroke="#222" stroke-width="0.8"/><line x1="438.93" y1="235.4" x2="438.93" y2="236.69" stroke="#222" stroke-width="0.8"/><line x1="443.7" y1="235.4" x2="443.7" y2="236.69" stroke="#222" stroke-width="0.8"/><line x1="447.4" y1="235.4" x2="447.4" y2="236.69" stroke="#222" stroke-width="0.8"/><line x1="450.43" y1="235.4" x2="450.43" y2="236.69" stroke="#222" stroke-width="0.8"/><line x1="452.98" y1="235.4" x2="452.98" y2="236.69" stroke="#222" stroke-width="0.8"/><line x1="455.2" y1="235.4" x2="455.2" y2="236.69" stroke="#222" stroke-width="0.8"/><line x1="457.15" y1="235.4" x2="457.15" y2="236.69" stroke="#222" stroke-width="0.8"/><line x1="458.9" y1="235.4" x2="458.9" y2="237.55" stroke="#222" stroke-width="0.8"/><line x1="470.4" y1="235.4" x2="470.4" y2="236.69" stroke="#222" stroke-width="0.8"/><line x1="477.13" y1="235.4" x2="477.13" y2="236.69" stroke="#222" stroke-width="0.8"/><line x1="481.9" y1="235.4" x2="481.9" y2="236.69" stroke="#222" stroke-width="0.8"/><line x1="485.6" y1="235.4" x2="485.6" y2="236.69" stroke="#222" stroke-width="0.8"/><line x1="488.63" y1="235.4" x2="488.63" y2="236.69" stroke="#222" stroke-width="0.8"/><line x1="491.18" y1="235.4" x2="491.18" y2="236.69" stroke="#222" stroke-width="0.8"/><line x1="493.4" y1="235.4" x2="493.4" y2="236.69" stroke="#222" stroke-width="0.8"/><line x1="495.35" y1="235.4" x2="495.35" y2="236.69" stroke="#222" stroke-width="0.8"/><line x1="497.1" y1="235.4" x2="497.1" y2="237.55" stroke="#222" stroke-width="0.8"/><text x="382.5" y="243.85" font-size="5.71" text-anchor="middle">0.1</text><text x="420.7" y="243.85" font-size="5.71" text-anchor="middle">1</text><text x="458.9" y="243.85" font-size="5.71" text-anchor="middle">10</text><text x="497.1" y="243.85" font-size="5.71" text-anchor="middle">100</text><text x="440.5" y="252.15" font-size="6.46" text-anchor="middle">µM BSO</text><text transform="translate(367.77,196.6) rotate(-90) scale(0.845,1)" font-size="7.11" stroke="#000" stroke-width="0.2" text-anchor="middle">Surviving fraction</text><polyline points="382.50,183.46 382.79,183.46 383.07,183.46 383.36,183.46 383.65,183.46 383.93,183.46 384.22,183.46 384.51,183.46 384.79,183.46 385.08,183.46 385.37,183.46 385.65,183.46 385.94,183.46 386.22,183.46 386.51,183.46 386.80,183.46 387.08,183.46 387.37,183.46 387.66,183.46 387.94,183.46 388.23,183.46 388.52,183.46 388.80,183.46 389.09,183.46 389.38,183.46 389.66,183.46 389.95,183.46 390.24,183.46 390.52,183.46 390.81,183.46 391.10,183.46 391.38,183.46 391.67,183.46 391.95,183.46 392.24,183.46 392.53,183.46 392.81,183.46 393.10,183.46 393.39,183.46 393.67,183.46 393.96,183.46 394.25,183.46 394.53,183.46 394.82,183.46 395.11,183.46 395.39,183.46 395.68,183.46 395.97,183.46 396.25,183.46 396.54,183.46 396.82,183.46 397.11,183.46 397.40,183.46 397.68,183.46 397.97,183.46 398.26,183.46 398.54,183.46 398.83,183.46 399.12,183.46 399.40,183.46 399.69,183.46 399.98,183.46 400.26,183.46 400.55,183.46 400.84,183.46 401.12,183.46 401.41,183.46 401.70,183.46 401.98,183.46 402.27,183.46 402.56,183.46 402.84,183.46 403.13,183.46 403.41,183.46 403.70,183.46 403.99,183.46 404.27,183.46 404.56,183.46 404.85,183.46 405.13,183.46 405.42,183.46 405.71,183.46 405.99,183.46 406.28,183.46 406.57,183.46 406.85,183.46 407.14,183.46 407.43,183.46 407.71,183.46 408.00,183.46 408.29,183.46 408.57,183.46 408.86,183.46 409.14,183.46 409.43,183.46 409.72,183.46 410.00,183.46 410.29,183.46 410.58,183.46 410.86,183.46 411.15,183.46 411.44,183.46 411.72,183.46 412.01,183.46 412.30,183.46 412.58,183.46 412.87,183.46 413.16,183.46 413.44,183.46 413.73,183.46 414.01,183.46 414.30,183.46 414.59,183.46 414.87,183.46 415.16,183.46 415.45,183.46 415.73,183.46 416.02,183.46 416.31,183.46 416.59,183.46 416.88,183.46 417.17,183.46 417.45,183.46 417.74,183.46 418.03,183.46 418.31,183.46 418.60,183.46 418.89,183.46 419.17,183.46 419.46,183.46 419.75,183.46 420.03,183.46 420.32,183.46 420.60,183.46 420.89,183.46 421.18,183.46 421.46,183.46 421.75,183.46 422.04,183.46 422.32,183.46 422.61,183.46 422.90,183.46 423.18,183.46 423.47,183.46 423.76,183.46 424.04,183.46 424.33,183.46 424.62,183.46 424.90,183.46 425.19,183.46 425.48,183.46 425.76,183.46 426.05,183.46 426.33,183.46 426.62,183.46 426.91,183.46 427.19,183.46 427.48,183.46 427.77,183.46 428.05,183.46 428.34,183.46 428.63,183.46 428.91,183.46 429.20,183.46 429.49,183.46 429.77,183.46 430.06,183.46 430.35,183.46 430.63,183.46 430.92,183.46 431.20,183.46 431.49,183.46 431.78,183.46 432.06,183.46 432.35,183.46 432.64,183.46 432.92,183.46 433.21,183.46 433.50,183.46 433.78,183.46 434.07,183.46 434.36,183.46 434.64,183.46 434.93,183.46 435.22,183.46 435.50,183.46 435.79,183.46 436.08,183.46 436.36,183.46 436.65,183.46 436.94,183.46 437.22,183.46 437.51,183.46 437.79,183.46 438.08,183.46 438.37,183.46 438.65,183.46 438.94,183.46 439.23,183.46 439.51,183.46 439.80,183.46 440.09,183.46 440.37,183.46 440.66,183.46 440.95,183.46 441.23,183.46 441.52,183.46 441.81,183.46 442.09,183.46 442.38,183.46 442.67,183.46 442.95,183.46 443.24,183.46 443.52,183.46 443.81,183.46 444.10,183.46 444.38,183.46 444.67,183.46 444.96,183.46 445.24,183.46 445.53,183.46 445.82,183.46 446.10,183.46 446.39,183.46 446.68,183.46 446.96,183.46 447.25,183.46 447.54,183.46 447.82,183.46 448.11,183.46 448.39,183.46 448.68,183.46 448.97,183.46 449.25,183.46 449.54,183.46 449.83,183.46 450.11,183.46 450.40,183.46 450.69,183.46 450.97,183.46 451.26,183.46 451.55,183.46 451.83,183.46 452.12,183.46 452.41,183.46 452.69,183.46 452.98,183.46 453.27,183.46 453.55,183.46 453.84,183.46 454.12,183.46 454.41,183.46 454.70,183.46 454.98,183.46 455.27,183.46 455.56,183.46 455.84,183.46 456.13,183.46 456.42,183.46 456.70,183.46 456.99,183.46 457.28,183.46 457.56,183.46 457.85,183.46 458.14,183.46 458.42,183.46 458.71,183.46 459.00,183.46 459.28,183.46 459.57,183.46 459.86,183.46 460.14,183.46 460.43,183.46 460.71,183.46 461.00,183.46 461.29,183.46 461.57,183.46 461.86,183.46 462.15,183.46 462.43,183.46 462.72,183.46 463.01,183.46 463.29,183.46 463.58,183.46 463.87,183.46 464.15,183.46 464.44,183.46 464.73,183.46 465.01,183.46 465.30,183.46 465.58,183.46 465.87,183.46 466.16,183.46 466.44,183.46 466.73,183.46 467.02,183.46 467.30,183.46 467.59,183.46 467.88,183.46 468.16,183.46 468.45,183.46 468.74,183.46 469.02,183.46 469.31,183.46 469.60,183.46 469.88,183.46 470.17,183.46 470.46,183.46 470.74,183.46 471.03,183.46 471.31,183.46 471.60,183.46 471.89,183.46 472.17,183.46 472.46,183.46 472.75,183.46 473.03,183.46 473.32,183.46 473.61,183.46 473.89,183.46 474.18,183.46 474.47,183.46 474.75,183.46 475.04,183.46 475.33,183.46 475.61,183.46 475.90,183.46 476.19,183.46 476.47,183.46 476.76,183.46 477.05,183.46 477.33,183.46 477.62,183.46 477.90,183.46 478.19,183.46 478.48,183.46 478.76,183.46 479.05,183.46 479.34,183.46 479.62,183.46 479.91,183.46 480.20,183.46 480.48,183.46 480.77,183.46 481.06,183.46 481.34,183.46 481.63,183.46 481.92,183.46 482.20,183.46 482.49,183.46 482.77,183.46 483.06,183.46 483.35,183.46 483.63,183.46 483.92,183.47 484.21,183.47 484.49,183.49 484.78,183.56 485.07,183.85 485.35,184.87 485.64,187.59 485.93,191.47 486.21,193.95 486.50,194.83 486.79,195.07 487.07,195.14 487.36,195.15 487.65,195.16 487.93,195.16 488.22,195.16 488.50,195.16 488.79,195.16 489.08,195.16 489.36,195.16 489.65,195.16 489.94,195.16 490.22,195.16 490.51,195.16 490.80,195.16 491.08,195.16 491.37,195.16 491.66,195.16 491.94,195.16 492.23,195.16 492.52,195.16 492.80,195.16 493.09,195.16 493.38,195.16 493.66,195.16 493.95,195.16 494.24,195.16 494.52,195.16 494.81,195.16 495.09,195.16 495.38,195.16 495.67,195.16 495.95,195.16 496.24,195.16 496.53,195.16 496.81,195.16 497.10,195.16" fill="none" stroke="#f00" stroke-width="1.05"/><circle cx="382.5" cy="179.97" r="1.5" fill="#000"/><line x1="424.4" y1="180.03" x2="424.4" y2="186.9" stroke="#000" stroke-width="1.25"/><line x1="422.4" y1="180.03" x2="426.4" y2="180.03" stroke="#000" stroke-width="1.3"/><line x1="422.4" y1="186.9" x2="426.4" y2="186.9" stroke="#000" stroke-width="1.3"/><circle cx="424.4" cy="183.46" r="1.5" fill="#000"/><line x1="435.9" y1="180.14" x2="435.9" y2="186.79" stroke="#000" stroke-width="1.25"/><line x1="433.9" y1="180.14" x2="437.9" y2="180.14" stroke="#000" stroke-width="1.3"/><line x1="433.9" y1="186.79" x2="437.9" y2="186.79" stroke="#000" stroke-width="1.3"/><circle cx="435.9" cy="183.46" r="1.5" fill="#000"/><line x1="447.4" y1="178.75" x2="447.4" y2="188.17" stroke="#000" stroke-width="1.25"/><line x1="445.4" y1="178.75" x2="449.4" y2="178.75" stroke="#000" stroke-width="1.3"/><line x1="445.4" y1="188.17" x2="449.4" y2="188.17" stroke="#000" stroke-width="1.3"/><circle cx="447.4" cy="183.46" r="1.5" fill="#000"/><line x1="458.9" y1="180.25" x2="458.9" y2="188.9" stroke="#000" stroke-width="1.25"/><line x1="456.9" y1="180.25" x2="460.9" y2="180.25" stroke="#000" stroke-width="1.3"/><line x1="456.9" y1="188.9" x2="460.9" y2="188.9" stroke="#000" stroke-width="1.3"/><circle cx="458.9" cy="184.57" r="1.5" fill="#000"/><line x1="474.1" y1="179.97" x2="474.1" y2="187.73" stroke="#000" stroke-width="1.25"/><line x1="472.1" y1="179.97" x2="476.1" y2="179.97" stroke="#000" stroke-width="1.3"/><line x1="472.1" y1="187.73" x2="476.1" y2="187.73" stroke="#000" stroke-width="1.3"/><circle cx="474.1" cy="183.85" r="1.5" fill="#000"/><line x1="485.6" y1="180.8" x2="485.6" y2="189.67" stroke="#000" stroke-width="1.25"/><line x1="483.6" y1="180.8" x2="487.6" y2="180.8" stroke="#000" stroke-width="1.3"/><line x1="483.6" y1="189.67" x2="487.6" y2="189.67" stroke="#000" stroke-width="1.3"/><circle cx="485.6" cy="185.24" r="1.5" fill="#000"/><line x1="497.1" y1="191.5" x2="497.1" y2="198.15" stroke="#000" stroke-width="1.25"/><line x1="495.1" y1="191.5" x2="499.1" y2="191.5" stroke="#000" stroke-width="1.3"/><line x1="495.1" y1="198.15" x2="499.1" y2="198.15" stroke="#000" stroke-width="1.3"/><circle cx="497.1" cy="194.83" r="1.5" fill="#000"/></g>
<g><text x="613.2" y="148.1" font-size="7.5" text-anchor="middle">K4</text><line x1="556" y1="207.69" x2="672.03" y2="207.69" stroke="#333" stroke-width="1" stroke-dasharray="1.15 1.14"/><line x1="555.6" y1="157.35" x2="555.6" y2="237.55" stroke="#222" stroke-width="0.95"/><line x1="553.45" y1="235.4" x2="672.03" y2="235.4" stroke="#222" stroke-width="0.95"/><line x1="553.45" y1="235.4" x2="555.6" y2="235.4" stroke="#222" stroke-width="0.95"/><text x="552.69" y="237.72" font-size="5.71" text-anchor="end">0.0</text><line x1="553.45" y1="224.31" x2="555.6" y2="224.31" stroke="#222" stroke-width="0.95"/><text x="552.69" y="226.63" font-size="5.71" text-anchor="end">0.2</text><line x1="553.45" y1="213.23" x2="555.6" y2="213.23" stroke="#222" stroke-width="0.95"/><text x="552.69" y="215.54" font-size="5.71" text-anchor="end">0.4</text><line x1="553.45" y1="202.14" x2="555.6" y2="202.14" stroke="#222" stroke-width="0.95"/><text x="552.69" y="204.46" font-size="5.71" text-anchor="end">0.6</text><line x1="553.45" y1="191.06" x2="555.6" y2="191.06" stroke="#222" stroke-width="0.95"/><text x="552.69" y="193.37" font-size="5.71" text-anchor="end">0.8</text><line x1="553.45" y1="179.97" x2="555.6" y2="179.97" stroke="#222" stroke-width="0.95"/><text x="552.69" y="182.29" font-size="5.71" text-anchor="end">1.0</text><line x1="553.45" y1="168.89" x2="555.6" y2="168.89" stroke="#222" stroke-width="0.95"/><text x="552.69" y="171.2" font-size="5.71" text-anchor="end">1.2</text><line x1="553.45" y1="157.8" x2="555.6" y2="157.8" stroke="#222" stroke-width="0.95"/><text x="552.69" y="160.12" font-size="5.71" text-anchor="end">1.4</text><line x1="555.6" y1="235.4" x2="555.6" y2="237.55" stroke="#222" stroke-width="0.8"/><line x1="567.1" y1="235.4" x2="567.1" y2="236.69" stroke="#222" stroke-width="0.8"/><line x1="573.83" y1="235.4" x2="573.83" y2="236.69" stroke="#222" stroke-width="0.8"/><line x1="578.6" y1="235.4" x2="578.6" y2="236.69" stroke="#222" stroke-width="0.8"/><line x1="582.3" y1="235.4" x2="582.3" y2="236.69" stroke="#222" stroke-width="0.8"/><line x1="585.33" y1="235.4" x2="585.33" y2="236.69" stroke="#222" stroke-width="0.8"/><line x1="587.88" y1="235.4" x2="587.88" y2="236.69" stroke="#222" stroke-width="0.8"/><line x1="590.1" y1="235.4" x2="590.1" y2="236.69" stroke="#222" stroke-width="0.8"/><line x1="592.05" y1="235.4" x2="592.05" y2="236.69" stroke="#222" stroke-width="0.8"/><line x1="593.8" y1="235.4" x2="593.8" y2="237.55" stroke="#222" stroke-width="0.8"/><line x1="605.3" y1="235.4" x2="605.3" y2="236.69" stroke="#222" stroke-width="0.8"/><line x1="612.03" y1="235.4" x2="612.03" y2="236.69" stroke="#222" stroke-width="0.8"/><line x1="616.8" y1="235.4" x2="616.8" y2="236.69" stroke="#222" stroke-width="0.8"/><line x1="620.5" y1="235.4" x2="620.5" y2="236.69" stroke="#222" stroke-width="0.8"/><line x1="623.53" y1="235.4" x2="623.53" y2="236.69" stroke="#222" stroke-width="0.8"/><line x1="626.08" y1="235.4" x2="626.08" y2="236.69" stroke="#222" stroke-width="0.8"/><line x1="628.3" y1="235.4" x2="628.3" y2="236.69" stroke="#222" stroke-width="0.8"/><line x1="630.25" y1="235.4" x2="630.25" y2="236.69" stroke="#222" stroke-width="0.8"/><line x1="632" y1="235.4" x2="632" y2="237.55" stroke="#222" stroke-width="0.8"/><line x1="643.5" y1="235.4" x2="643.5" y2="236.69" stroke="#222" stroke-width="0.8"/><line x1="650.23" y1="235.4" x2="650.23" y2="236.69" stroke="#222" stroke-width="0.8"/><line x1="655" y1="235.4" x2="655" y2="236.69" stroke="#222" stroke-width="0.8"/><line x1="658.7" y1="235.4" x2="658.7" y2="236.69" stroke="#222" stroke-width="0.8"/><line x1="661.73" y1="235.4" x2="661.73" y2="236.69" stroke="#222" stroke-width="0.8"/><line x1="664.28" y1="235.4" x2="664.28" y2="236.69" stroke="#222" stroke-width="0.8"/><line x1="666.5" y1="235.4" x2="666.5" y2="236.69" stroke="#222" stroke-width="0.8"/><line x1="668.45" y1="235.4" x2="668.45" y2="236.69" stroke="#222" stroke-width="0.8"/><line x1="670.2" y1="235.4" x2="670.2" y2="237.55" stroke="#222" stroke-width="0.8"/><text x="555.6" y="243.85" font-size="5.71" text-anchor="middle">0.1</text><text x="593.8" y="243.85" font-size="5.71" text-anchor="middle">1</text><text x="632" y="243.85" font-size="5.71" text-anchor="middle">10</text><text x="670.2" y="243.85" font-size="5.71" text-anchor="middle">100</text><text x="613.6" y="252.15" font-size="6.46" text-anchor="middle">µM BSO</text><text transform="translate(540.87,196.6) rotate(-90) scale(0.845,1)" font-size="7.11" stroke="#000" stroke-width="0.2" text-anchor="middle">Surviving fraction</text><polyline points="555.60,176.04 555.89,176.04 556.17,176.04 556.46,176.04 556.75,176.04 557.03,176.04 557.32,176.04 557.61,176.04 557.89,176.04 558.18,176.04 558.47,176.04 558.75,176.04 559.04,176.04 559.32,176.04 559.61,176.04 559.90,176.04 560.18,176.04 560.47,176.04 560.76,176.04 561.04,176.04 561.33,176.04 561.62,176.04 561.90,176.04 562.19,176.04 562.48,176.04 562.76,176.04 563.05,176.04 563.34,176.04 563.62,176.04 563.91,176.04 564.20,176.04 564.48,176.04 564.77,176.04 565.05,176.04 565.34,176.04 565.63,176.04 565.91,176.04 566.20,176.04 566.49,176.04 566.77,176.04 567.06,176.04 567.35,176.04 567.63,176.04 567.92,176.04 568.21,176.04 568.49,176.04 568.78,176.04 569.07,176.04 569.35,176.04 569.64,176.04 569.93,176.04 570.21,176.04 570.50,176.04 570.78,176.04 571.07,176.04 571.36,176.04 571.64,176.04 571.93,176.04 572.22,176.04 572.50,176.04 572.79,176.04 573.08,176.04 573.36,176.04 573.65,176.04 573.94,176.04 574.22,176.04 574.51,176.04 574.80,176.04 575.08,176.04 575.37,176.04 575.65,176.04 575.94,176.04 576.23,176.04 576.51,176.04 576.80,176.04 577.09,176.04 577.37,176.04 577.66,176.04 577.95,176.04 578.23,176.04 578.52,176.04 578.81,176.04 579.09,176.04 579.38,176.04 579.67,176.04 579.95,176.04 580.24,176.04 580.53,176.04 580.81,176.04 581.10,176.04 581.38,176.04 581.67,176.04 581.96,176.04 582.24,176.04 582.53,176.04 582.82,176.04 583.10,176.04 583.39,176.04 583.68,176.04 583.96,176.04 584.25,176.04 584.54,176.04 584.82,176.04 585.11,176.04 585.40,176.04 585.68,176.04 585.97,176.04 586.26,176.04 586.54,176.04 586.83,176.04 587.12,176.04 587.40,176.04 587.69,176.04 587.97,176.04 588.26,176.04 588.55,176.04 588.83,176.04 589.12,176.04 589.41,176.04 589.69,176.04 589.98,176.04 590.27,176.04 590.55,176.04 590.84,176.04 591.13,176.04 591.41,176.04 591.70,176.04 591.99,176.04 592.27,176.04 592.56,176.04 592.85,176.04 593.13,176.04 593.42,176.04 593.70,176.04 593.99,176.04 594.28,176.04 594.56,176.04 594.85,176.04 595.14,176.04 595.42,176.04 595.71,176.04 596.00,176.04 596.28,176.04 596.57,176.04 596.86,176.04 597.14,176.04 597.43,176.04 597.72,176.04 598.00,176.04 598.29,176.04 598.58,176.04 598.86,176.04 599.15,176.04 599.43,176.04 599.72,176.04 600.01,176.04 600.29,176.04 600.58,176.04 600.87,176.04 601.15,176.04 601.44,176.04 601.73,176.04 602.01,176.04 602.30,176.04 602.59,176.04 602.87,176.04 603.16,176.04 603.45,176.04 603.73,176.04 604.02,176.04 604.31,176.04 604.59,176.04 604.88,176.04 605.16,176.04 605.45,176.04 605.74,176.04 606.02,176.04 606.31,176.04 606.60,176.04 606.88,176.04 607.17,176.04 607.46,176.04 607.74,176.04 608.03,176.04 608.32,176.04 608.60,176.04 608.89,176.04 609.18,176.04 609.46,176.04 609.75,176.04 610.04,176.04 610.32,176.04 610.61,176.04 610.89,176.04 611.18,176.04 611.47,176.04 611.75,176.04 612.04,176.04 612.33,176.04 612.61,176.04 612.90,176.04 613.19,176.04 613.47,176.04 613.76,176.04 614.05,176.04 614.33,176.04 614.62,176.04 614.91,176.04 615.19,176.04 615.48,176.04 615.76,176.04 616.05,176.04 616.34,176.04 616.62,176.04 616.91,176.04 617.20,176.04 617.48,176.04 617.77,176.04 618.06,176.04 618.34,176.04 618.63,176.04 618.92,176.04 619.20,176.04 619.49,176.04 619.78,176.04 620.06,176.04 620.35,176.04 620.64,176.04 620.92,176.04 621.21,176.04 621.50,176.04 621.78,176.04 622.07,176.04 622.35,176.04 622.64,176.04 622.93,176.04 623.21,176.04 623.50,176.04 623.79,176.04 624.07,176.04 624.36,176.04 624.65,176.04 624.93,176.04 625.22,176.04 625.51,176.04 625.79,176.04 626.08,176.04 626.37,176.04 626.65,176.04 626.94,176.04 627.23,176.04 627.51,176.04 627.80,176.04 628.08,176.04 628.37,176.04 628.66,176.04 628.94,176.04 629.23,176.04 629.52,176.04 629.80,176.04 630.09,176.04 630.38,176.04 630.66,176.04 630.95,176.04 631.24,176.04 631.52,176.04 631.81,176.04 632.10,176.04 632.38,176.04 632.67,176.04 632.96,176.04 633.24,176.04 633.53,176.04 633.81,176.04 634.10,176.04 634.39,176.04 634.67,176.04 634.96,176.04 635.25,176.04 635.53,176.04 635.82,176.04 636.11,176.04 636.39,176.04 636.68,176.04 636.97,176.04 637.25,176.04 637.54,176.04 637.83,176.04 638.11,176.04 638.40,176.04 638.69,176.04 638.97,176.04 639.26,176.04 639.54,176.04 639.83,176.04 640.12,176.04 640.40,176.04 640.69,176.04 640.98,176.04 641.26,176.04 641.55,176.04 641.84,176.04 642.12,176.04 642.41,176.04 642.70,176.04 642.98,176.04 643.27,176.04 643.56,176.04 643.84,176.04 644.13,176.04 644.42,176.04 644.70,176.04 644.99,176.04 645.27,176.04 645.56,176.04 645.85,176.04 646.13,176.05 646.42,176.08 646.71,176.22 646.99,176.75 647.28,178.50 647.57,182.42 647.85,186.67 648.14,188.80 648.43,189.48 648.71,189.66 649.00,189.71 649.29,189.72 649.57,189.73 649.86,189.73 650.14,189.73 650.43,189.73 650.72,189.73 651.00,189.73 651.29,189.73 651.58,189.73 651.86,189.73 652.15,189.73 652.44,189.73 652.72,189.73 653.01,189.73 653.30,189.73 653.58,189.73 653.87,189.73 654.16,189.73 654.44,189.73 654.73,189.73 655.02,189.73 655.30,189.73 655.59,189.73 655.88,189.73 656.16,189.73 656.45,189.73 656.73,189.73 657.02,189.73 657.31,189.73 657.59,189.73 657.88,189.73 658.17,189.73 658.45,189.73 658.74,189.73 659.03,189.73 659.31,189.73 659.60,189.73 659.89,189.73 660.17,189.73 660.46,189.73 660.75,189.73 661.03,189.73 661.32,189.73 661.61,189.73 661.89,189.73 662.18,189.73 662.46,189.73 662.75,189.73 663.04,189.73 663.32,189.73 663.61,189.73 663.90,189.73 664.18,189.73 664.47,189.73 664.76,189.73 665.04,189.73 665.33,189.73 665.62,189.73 665.90,189.73 666.19,189.73 666.48,189.73 666.76,189.73 667.05,189.73 667.34,189.73 667.62,189.73 667.91,189.73 668.19,189.73 668.48,189.73 668.77,189.73 669.05,189.73 669.34,189.73 669.63,189.73 669.91,189.73 670.20,189.73" fill="none" stroke="#f00" stroke-width="1.05"/><circle cx="555.6" cy="179.97" r="1.5" fill="#000"/><line x1="597.5" y1="171.27" x2="597.5" y2="175.37" stroke="#000" stroke-width="1.25"/><line x1="595.5" y1="171.27" x2="599.5" y2="171.27" stroke="#000" stroke-width="1.3"/><line x1="595.5" y1="175.37" x2="599.5" y2="175.37" stroke="#000" stroke-width="1.3"/><circle cx="597.5" cy="173.32" r="1.5" fill="#000"/><circle cx="609" cy="173.04" r="1.5" fill="#000"/><line x1="620.5" y1="168.89" x2="620.5" y2="179.42" stroke="#000" stroke-width="1.25"/><line x1="618.5" y1="168.89" x2="622.5" y2="168.89" stroke="#000" stroke-width="1.3"/><line x1="618.5" y1="179.42" x2="622.5" y2="179.42" stroke="#000" stroke-width="1.3"/><circle cx="620.5" cy="174.15" r="1.5" fill="#000"/><line x1="632" y1="175.48" x2="632" y2="183.24" stroke="#000" stroke-width="1.25"/><line x1="630" y1="175.48" x2="634" y2="175.48" stroke="#000" stroke-width="1.3"/><line x1="630" y1="183.24" x2="634" y2="183.24" stroke="#000" stroke-width="1.3"/><circle cx="632" cy="179.36" r="1.5" fill="#000"/><line x1="647.2" y1="176.92" x2="647.2" y2="181.8" stroke="#000" stroke-width="1.25"/><line x1="645.2" y1="176.92" x2="649.2" y2="176.92" stroke="#000" stroke-width="1.3"/><line x1="645.2" y1="181.8" x2="649.2" y2="181.8" stroke="#000" stroke-width="1.3"/><circle cx="647.2" cy="179.36" r="1.5" fill="#000"/><circle cx="658.7" cy="185.79" r="1.5" fill="#000"/><circle cx="670.2" cy="193.66" r="1.5" fill="#000"/></g>
</svg></body></html>
